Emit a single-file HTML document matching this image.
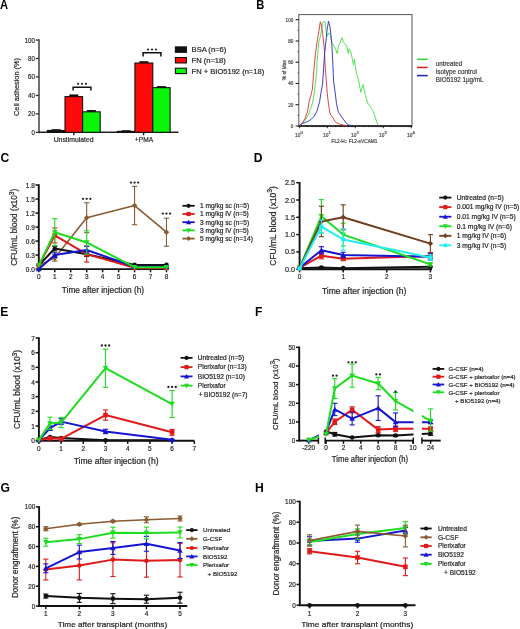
<!DOCTYPE html>
<html><head><meta charset="utf-8"><style>
html,body{margin:0;padding:0;background:#fff;}
svg{display:block;font-family:"Liberation Sans", sans-serif;filter:blur(0.35px);}
</style></head><body>
<svg width="520" height="629" viewBox="0 0 520 629">
<rect width="520" height="629" fill="#fff"/>
<text x="0" y="9" font-size="12.5" text-anchor="start" font-weight="bold" textLength="8.09" lengthAdjust="spacingAndGlyphs" fill="#000">A</text>
<text x="256.3" y="8.5" font-size="12.5" text-anchor="start" font-weight="bold" textLength="8.09" lengthAdjust="spacingAndGlyphs" fill="#000">B</text>
<text x="0.4" y="161.8" font-size="12.5" text-anchor="start" font-weight="bold" textLength="8.76" lengthAdjust="spacingAndGlyphs" fill="#000">C</text>
<text x="253.8" y="162" font-size="12.5" text-anchor="start" font-weight="bold" textLength="8.76" lengthAdjust="spacingAndGlyphs" fill="#000">D</text>
<text x="0.2" y="315.8" font-size="12.5" text-anchor="start" font-weight="bold" textLength="8.09" lengthAdjust="spacingAndGlyphs" fill="#000">E</text>
<text x="255" y="316" font-size="12.5" text-anchor="start" font-weight="bold" textLength="7.41" lengthAdjust="spacingAndGlyphs" fill="#000">F</text>
<text x="0.5" y="491.5" font-size="12.5" text-anchor="start" font-weight="bold" textLength="9.43" lengthAdjust="spacingAndGlyphs" fill="#000">G</text>
<text x="255" y="491.5" font-size="12.5" text-anchor="start" font-weight="bold" textLength="8.76" lengthAdjust="spacingAndGlyphs" fill="#000">H</text>
<line x1="39" y1="39.35" x2="39" y2="133.2" stroke="#333" stroke-width="1.4"/>
<line x1="35.7" y1="132.3" x2="39" y2="132.3" stroke="#333" stroke-width="1.3"/>
<text x="35" y="134.8" font-size="7.2" text-anchor="end" textLength="3.44" lengthAdjust="spacingAndGlyphs" fill="#262626" stroke="#262626" stroke-width="0.2">0</text>
<line x1="35.7" y1="113.85" x2="39" y2="113.85" stroke="#333" stroke-width="1.3"/>
<text x="35" y="116.35" font-size="7.2" text-anchor="end" textLength="6.89" lengthAdjust="spacingAndGlyphs" fill="#262626" stroke="#262626" stroke-width="0.2">20</text>
<line x1="35.7" y1="95.4" x2="39" y2="95.4" stroke="#333" stroke-width="1.3"/>
<text x="35" y="97.9" font-size="7.2" text-anchor="end" textLength="6.89" lengthAdjust="spacingAndGlyphs" fill="#262626" stroke="#262626" stroke-width="0.2">40</text>
<line x1="35.7" y1="76.95" x2="39" y2="76.95" stroke="#333" stroke-width="1.3"/>
<text x="35" y="79.45" font-size="7.2" text-anchor="end" textLength="6.89" lengthAdjust="spacingAndGlyphs" fill="#262626" stroke="#262626" stroke-width="0.2">60</text>
<line x1="35.7" y1="58.5" x2="39" y2="58.5" stroke="#333" stroke-width="1.3"/>
<text x="35" y="61" font-size="7.2" text-anchor="end" textLength="6.89" lengthAdjust="spacingAndGlyphs" fill="#262626" stroke="#262626" stroke-width="0.2">80</text>
<line x1="35.7" y1="40.05" x2="39" y2="40.05" stroke="#333" stroke-width="1.3"/>
<text x="35" y="42.55" font-size="7.2" text-anchor="end" textLength="10.33" lengthAdjust="spacingAndGlyphs" fill="#262626" stroke="#262626" stroke-width="0.2">100</text>
<line x1="38.3" y1="132.3" x2="178.5" y2="132.3" stroke="#222" stroke-width="1.5"/>
<line x1="73.8" y1="132.3" x2="73.8" y2="135.2" stroke="#111" stroke-width="1.4"/>
<line x1="143.6" y1="132.3" x2="143.6" y2="135.2" stroke="#111" stroke-width="1.4"/>
<text x="73.6" y="141.6" font-size="7.2" text-anchor="middle" textLength="39.8" lengthAdjust="spacingAndGlyphs" fill="#262626" stroke="#262626" stroke-width="0.2">Unstimulated</text>
<text x="144" y="141.6" font-size="7.2" text-anchor="middle" textLength="18.3" lengthAdjust="spacingAndGlyphs" fill="#262626" stroke="#262626" stroke-width="0.2">+PMA</text>
<text x="19.3" y="87" font-size="7.5" text-anchor="middle" textLength="58" lengthAdjust="spacingAndGlyphs" transform="rotate(-90 19.3 87)" fill="#262626" stroke="#262626" stroke-width="0.2">Cell adhesion (%)</text>
<rect x="47.3" y="130.46" width="17.5" height="1.84" fill="#111" stroke="#111" stroke-width="1.1"/>
<line x1="56.05" y1="130.09" x2="56.05" y2="130.46" stroke="#111" stroke-width="1.2"/>
<line x1="51.55" y1="130.09" x2="60.55" y2="130.09" stroke="#111" stroke-width="1.8"/>
<rect x="65" y="96.6" width="17.6" height="35.7" fill="#ff0a0a" stroke="#111" stroke-width="1.1"/>
<line x1="73.8" y1="95.31" x2="73.8" y2="96.6" stroke="#111" stroke-width="1.2"/>
<line x1="69.3" y1="95.31" x2="78.3" y2="95.31" stroke="#111" stroke-width="1.8"/>
<rect x="82.6" y="111.82" width="17.6" height="20.48" fill="#0af50a" stroke="#111" stroke-width="1.1"/>
<line x1="91.4" y1="110.9" x2="91.4" y2="111.82" stroke="#111" stroke-width="1.2"/>
<line x1="86.9" y1="110.9" x2="95.9" y2="110.9" stroke="#111" stroke-width="1.8"/>
<rect x="117.4" y="131.38" width="17.5" height="0.92" fill="#111" stroke="#111" stroke-width="1.1"/>
<line x1="126.15" y1="131.1" x2="126.15" y2="131.38" stroke="#111" stroke-width="1.2"/>
<line x1="121.65" y1="131.1" x2="130.65" y2="131.1" stroke="#111" stroke-width="1.8"/>
<rect x="134.9" y="63.02" width="17.9" height="69.28" fill="#ff0a0a" stroke="#111" stroke-width="1.1"/>
<line x1="143.85" y1="62.1" x2="143.85" y2="63.02" stroke="#111" stroke-width="1.2"/>
<line x1="139.35" y1="62.1" x2="148.35" y2="62.1" stroke="#111" stroke-width="1.8"/>
<rect x="152.8" y="87.65" width="17.3" height="44.65" fill="#0af50a" stroke="#111" stroke-width="1.1"/>
<line x1="161.45" y1="87.01" x2="161.45" y2="87.65" stroke="#111" stroke-width="1.2"/>
<line x1="156.95" y1="87.01" x2="165.95" y2="87.01" stroke="#111" stroke-width="1.8"/>
<polyline points="73.1,90.6 73.1,87.2 90.9,87.2 90.9,90.6" fill="none" stroke="#111" stroke-width="1.5"/>
<circle cx="78.1" cy="83.8" r="1.1" fill="#222"/>
<circle cx="82" cy="83.8" r="1.1" fill="#222"/>
<circle cx="85.9" cy="83.8" r="1.1" fill="#222"/>
<polyline points="143.1,56.5 143.1,52.8 160.9,52.8 160.9,56.5" fill="none" stroke="#111" stroke-width="1.5"/>
<circle cx="148.1" cy="49.5" r="1.1" fill="#222"/>
<circle cx="152" cy="49.5" r="1.1" fill="#222"/>
<circle cx="155.9" cy="49.5" r="1.1" fill="#222"/>
<rect x="175.4" y="46.9" width="11" height="5.4" fill="#111" stroke="#111" stroke-width="1.1"/>
<text x="191.6" y="52.3" font-size="7.4" text-anchor="start" textLength="34.62" lengthAdjust="spacingAndGlyphs" fill="#262626" stroke="#262626" stroke-width="0.2">BSA (n=6)</text>
<rect x="175.4" y="57.55" width="11" height="5.4" fill="#ff0a0a" stroke="#111" stroke-width="1.1"/>
<text x="191.6" y="62.95" font-size="7.4" text-anchor="start" textLength="34.19" lengthAdjust="spacingAndGlyphs" fill="#262626" stroke="#262626" stroke-width="0.2">FN (n=18)</text>
<rect x="175.4" y="68.2" width="11" height="5.4" fill="#0af50a" stroke="#111" stroke-width="1.1"/>
<text x="191.6" y="73.6" font-size="7.4" text-anchor="start" textLength="72.58" lengthAdjust="spacingAndGlyphs" fill="#262626" stroke="#262626" stroke-width="0.2">FN + BIO5192 (n=18)</text>
<rect x="298.8" y="14.6" width="113.2" height="111.4" fill="none" stroke="#555" stroke-width="1"/>
<line x1="295.6" y1="126" x2="298.8" y2="126" stroke="#111" stroke-width="1.0"/>
<text x="293.3" y="128" font-size="5.5" text-anchor="end" textLength="2.57" lengthAdjust="spacingAndGlyphs" fill="#444" stroke="#444" stroke-width="0.2">0</text>
<line x1="295.6" y1="104.74" x2="298.8" y2="104.74" stroke="#111" stroke-width="1.0"/>
<text x="293.3" y="106.74" font-size="5.5" text-anchor="end" textLength="5.14" lengthAdjust="spacingAndGlyphs" fill="#444" stroke="#444" stroke-width="0.2">20</text>
<line x1="295.6" y1="83.48" x2="298.8" y2="83.48" stroke="#111" stroke-width="1.0"/>
<text x="293.3" y="85.48" font-size="5.5" text-anchor="end" textLength="5.14" lengthAdjust="spacingAndGlyphs" fill="#444" stroke="#444" stroke-width="0.2">40</text>
<line x1="295.6" y1="62.22" x2="298.8" y2="62.22" stroke="#111" stroke-width="1.0"/>
<text x="293.3" y="64.22" font-size="5.5" text-anchor="end" textLength="5.14" lengthAdjust="spacingAndGlyphs" fill="#444" stroke="#444" stroke-width="0.2">60</text>
<line x1="295.6" y1="40.96" x2="298.8" y2="40.96" stroke="#111" stroke-width="1.0"/>
<text x="293.3" y="42.96" font-size="5.5" text-anchor="end" textLength="5.14" lengthAdjust="spacingAndGlyphs" fill="#444" stroke="#444" stroke-width="0.2">80</text>
<line x1="295.6" y1="19.7" x2="298.8" y2="19.7" stroke="#111" stroke-width="1.0"/>
<text x="293.3" y="21.7" font-size="5.5" text-anchor="end" textLength="7.71" lengthAdjust="spacingAndGlyphs" fill="#444" stroke="#444" stroke-width="0.2">100</text>
<line x1="297.6" y1="115.37" x2="298.8" y2="115.37" stroke="#111" stroke-width="0.6"/>
<line x1="297.6" y1="94.11" x2="298.8" y2="94.11" stroke="#111" stroke-width="0.6"/>
<line x1="297.6" y1="72.85" x2="298.8" y2="72.85" stroke="#111" stroke-width="0.6"/>
<line x1="297.6" y1="51.59" x2="298.8" y2="51.59" stroke="#111" stroke-width="0.6"/>
<line x1="297.6" y1="30.33" x2="298.8" y2="30.33" stroke="#111" stroke-width="0.6"/>
<line x1="299.3" y1="126" x2="299.3" y2="128.2" stroke="#111" stroke-width="0.9"/>
<text x="297.7" y="137" font-size="5.6" text-anchor="middle" textLength="5.29" lengthAdjust="spacingAndGlyphs" fill="#444" stroke="#444" stroke-width="0.2">10</text>
<text x="300.6" y="134" font-size="4.2" text-anchor="start" fill="#444" stroke="#444" stroke-width="0.2">0</text>
<line x1="307.73" y1="126" x2="307.73" y2="127.2" stroke="#111" stroke-width="0.6"/>
<line x1="312.66" y1="126" x2="312.66" y2="127.2" stroke="#111" stroke-width="0.6"/>
<line x1="316.16" y1="126" x2="316.16" y2="127.2" stroke="#111" stroke-width="0.6"/>
<line x1="318.87" y1="126" x2="318.87" y2="127.2" stroke="#111" stroke-width="0.6"/>
<line x1="321.09" y1="126" x2="321.09" y2="127.2" stroke="#111" stroke-width="0.6"/>
<line x1="322.96" y1="126" x2="322.96" y2="127.2" stroke="#111" stroke-width="0.6"/>
<line x1="324.59" y1="126" x2="324.59" y2="127.2" stroke="#111" stroke-width="0.6"/>
<line x1="326.02" y1="126" x2="326.02" y2="127.2" stroke="#111" stroke-width="0.6"/>
<line x1="327.3" y1="126" x2="327.3" y2="128.2" stroke="#111" stroke-width="0.9"/>
<text x="325.7" y="137" font-size="5.6" text-anchor="middle" textLength="5.29" lengthAdjust="spacingAndGlyphs" fill="#444" stroke="#444" stroke-width="0.2">10</text>
<text x="328.6" y="134" font-size="4.2" text-anchor="start" fill="#444" stroke="#444" stroke-width="0.2">1</text>
<line x1="335.73" y1="126" x2="335.73" y2="127.2" stroke="#111" stroke-width="0.6"/>
<line x1="340.66" y1="126" x2="340.66" y2="127.2" stroke="#111" stroke-width="0.6"/>
<line x1="344.16" y1="126" x2="344.16" y2="127.2" stroke="#111" stroke-width="0.6"/>
<line x1="346.87" y1="126" x2="346.87" y2="127.2" stroke="#111" stroke-width="0.6"/>
<line x1="349.09" y1="126" x2="349.09" y2="127.2" stroke="#111" stroke-width="0.6"/>
<line x1="350.96" y1="126" x2="350.96" y2="127.2" stroke="#111" stroke-width="0.6"/>
<line x1="352.59" y1="126" x2="352.59" y2="127.2" stroke="#111" stroke-width="0.6"/>
<line x1="354.02" y1="126" x2="354.02" y2="127.2" stroke="#111" stroke-width="0.6"/>
<line x1="355.3" y1="126" x2="355.3" y2="128.2" stroke="#111" stroke-width="0.9"/>
<text x="353.7" y="137" font-size="5.6" text-anchor="middle" textLength="5.29" lengthAdjust="spacingAndGlyphs" fill="#444" stroke="#444" stroke-width="0.2">10</text>
<text x="356.6" y="134" font-size="4.2" text-anchor="start" fill="#444" stroke="#444" stroke-width="0.2">2</text>
<line x1="363.73" y1="126" x2="363.73" y2="127.2" stroke="#111" stroke-width="0.6"/>
<line x1="368.66" y1="126" x2="368.66" y2="127.2" stroke="#111" stroke-width="0.6"/>
<line x1="372.16" y1="126" x2="372.16" y2="127.2" stroke="#111" stroke-width="0.6"/>
<line x1="374.87" y1="126" x2="374.87" y2="127.2" stroke="#111" stroke-width="0.6"/>
<line x1="377.09" y1="126" x2="377.09" y2="127.2" stroke="#111" stroke-width="0.6"/>
<line x1="378.96" y1="126" x2="378.96" y2="127.2" stroke="#111" stroke-width="0.6"/>
<line x1="380.59" y1="126" x2="380.59" y2="127.2" stroke="#111" stroke-width="0.6"/>
<line x1="382.02" y1="126" x2="382.02" y2="127.2" stroke="#111" stroke-width="0.6"/>
<line x1="383.3" y1="126" x2="383.3" y2="128.2" stroke="#111" stroke-width="0.9"/>
<text x="381.7" y="137" font-size="5.6" text-anchor="middle" textLength="5.29" lengthAdjust="spacingAndGlyphs" fill="#444" stroke="#444" stroke-width="0.2">10</text>
<text x="384.6" y="134" font-size="4.2" text-anchor="start" fill="#444" stroke="#444" stroke-width="0.2">3</text>
<line x1="391.73" y1="126" x2="391.73" y2="127.2" stroke="#111" stroke-width="0.6"/>
<line x1="396.66" y1="126" x2="396.66" y2="127.2" stroke="#111" stroke-width="0.6"/>
<line x1="400.16" y1="126" x2="400.16" y2="127.2" stroke="#111" stroke-width="0.6"/>
<line x1="402.87" y1="126" x2="402.87" y2="127.2" stroke="#111" stroke-width="0.6"/>
<line x1="405.09" y1="126" x2="405.09" y2="127.2" stroke="#111" stroke-width="0.6"/>
<line x1="406.96" y1="126" x2="406.96" y2="127.2" stroke="#111" stroke-width="0.6"/>
<line x1="408.59" y1="126" x2="408.59" y2="127.2" stroke="#111" stroke-width="0.6"/>
<line x1="410.02" y1="126" x2="410.02" y2="127.2" stroke="#111" stroke-width="0.6"/>
<line x1="411.3" y1="126" x2="411.3" y2="128.2" stroke="#111" stroke-width="0.9"/>
<text x="409.7" y="137" font-size="5.6" text-anchor="middle" textLength="5.29" lengthAdjust="spacingAndGlyphs" fill="#444" stroke="#444" stroke-width="0.2">10</text>
<text x="412.6" y="134" font-size="4.2" text-anchor="start" fill="#444" stroke="#444" stroke-width="0.2">4</text>
<line x1="298.8" y1="126" x2="412" y2="126" stroke="#111" stroke-width="1.4"/>
<text x="354.5" y="142.5" font-size="5.2" text-anchor="middle" textLength="46" lengthAdjust="spacingAndGlyphs" fill="#444" stroke="#444" stroke-width="0.2">FL2-H:: FL2-sVCAM1</text>
<text x="286.4" y="70.2" font-size="5.2" text-anchor="middle" textLength="20" lengthAdjust="spacingAndGlyphs" transform="rotate(-90 286.4 70.2)" fill="#444" stroke="#444" stroke-width="0.2">% of Max</text>
<polyline points="299.9,125.3 301.8,123.8 304.7,121 308.6,114.2 311.5,106.5 313.4,98.8 315.3,84.4 316.8,70 316.9,63.1 318.8,41.9 320.3,37.1 321.3,31.3 322.7,22.7 323.7,21.3 325.1,22.2 326.1,31.3 327.5,36.2 328.9,32.8 330.4,34.2 331.8,42.9 333.8,45.8 335.2,48.2 337.1,53.5 338.6,45.8 340.5,41.9 341.9,37.6 343.4,41.9 344.8,43.8 346.7,45.8 348.2,53.5 349.1,48.7 350.6,51.5 352,57.3 353.5,65 354.4,59.2 355.4,66.9 356.3,72.7 358.5,80 360.8,92.3 363.1,84.6 365.4,95.4 367.7,103 370.8,107.7 373.1,110.8 374.6,115.4 376.2,120 378.2,125.4" fill="none" stroke="#44e044" stroke-width="0.9" stroke-linejoin="round"/>
<polyline points="299.9,125.3 302.3,123.4 305.2,118.1 307.6,111.3 309.1,101.7 310.5,96.9 312.4,89.2 313.9,70 315.3,55 316.9,42.9 318.4,34.2 320.3,21.7 321.7,26.5 322.7,34.2 324.1,46.7 324.6,53.5 325.4,70 326.4,81.5 327.3,94 328.8,106.5 330.2,114.2 332.1,116.2 334.1,120 336.5,122.9 340.3,124.3 344.2,125.3 347,125.8" fill="none" stroke="#e03030" stroke-width="0.9" stroke-linejoin="round"/>
<polyline points="299.9,125.3 302.3,123.4 305.7,122.4 308.6,121 311.5,119 314.3,116.2 317.2,110.4 319.6,101.7 321.1,92.1 322.5,84.4 323.5,70 324.6,53.5 326.1,40 327,30.4 328.5,21.3 329.9,26.5 330.9,34.2 331.8,43.8 332.8,63.1 333.6,81.5 335,91.2 336.5,103.7 338.4,112.3 340.8,115.7 343.2,119 346.1,122.9 348,124.8 352,125.8" fill="none" stroke="#2a2ac0" stroke-width="0.9" stroke-linejoin="round"/>
<line x1="417" y1="59.3" x2="427.7" y2="59.3" stroke="#3cd03c" stroke-width="1.6"/>
<text x="435.8" y="65.9" font-size="6.7" text-anchor="start" textLength="26.5" lengthAdjust="spacingAndGlyphs" fill="#3a3a3a" stroke="#3a3a3a" stroke-width="0.2">untreated</text>
<line x1="417" y1="67.45" x2="427.7" y2="67.45" stroke="#d02a2a" stroke-width="1.6"/>
<text x="435.8" y="73.8" font-size="6.7" text-anchor="start" textLength="41.1" lengthAdjust="spacingAndGlyphs" fill="#3a3a3a" stroke="#3a3a3a" stroke-width="0.2">isotype control</text>
<line x1="417" y1="75.6" x2="427.7" y2="75.6" stroke="#2a2aa0" stroke-width="1.6"/>
<text x="435.8" y="81.7" font-size="6.7" text-anchor="start" textLength="47.7" lengthAdjust="spacingAndGlyphs" fill="#3a3a3a" stroke="#3a3a3a" stroke-width="0.2">BIO5192 1μg/mL</text>
<line x1="38.8" y1="184.3" x2="38.8" y2="270" stroke="#111" stroke-width="1.9"/>
<line x1="35.5" y1="269.1" x2="38.8" y2="269.1" stroke="#111" stroke-width="1.5"/>
<text x="34.8" y="271.6" font-size="7.2" text-anchor="end" textLength="9.01" lengthAdjust="spacingAndGlyphs" fill="#262626" stroke="#262626" stroke-width="0.2">0.0</text>
<line x1="35.5" y1="255.08" x2="38.8" y2="255.08" stroke="#111" stroke-width="1.5"/>
<text x="34.8" y="257.58" font-size="7.2" text-anchor="end" textLength="9.01" lengthAdjust="spacingAndGlyphs" fill="#262626" stroke="#262626" stroke-width="0.2">0.3</text>
<line x1="35.5" y1="241.07" x2="38.8" y2="241.07" stroke="#111" stroke-width="1.5"/>
<text x="34.8" y="243.57" font-size="7.2" text-anchor="end" textLength="9.01" lengthAdjust="spacingAndGlyphs" fill="#262626" stroke="#262626" stroke-width="0.2">0.6</text>
<line x1="35.5" y1="227.05" x2="38.8" y2="227.05" stroke="#111" stroke-width="1.5"/>
<text x="34.8" y="229.55" font-size="7.2" text-anchor="end" textLength="9.01" lengthAdjust="spacingAndGlyphs" fill="#262626" stroke="#262626" stroke-width="0.2">0.9</text>
<line x1="35.5" y1="213.04" x2="38.8" y2="213.04" stroke="#111" stroke-width="1.5"/>
<text x="34.8" y="215.54" font-size="7.2" text-anchor="end" textLength="9.01" lengthAdjust="spacingAndGlyphs" fill="#262626" stroke="#262626" stroke-width="0.2">1.2</text>
<line x1="35.5" y1="199.02" x2="38.8" y2="199.02" stroke="#111" stroke-width="1.5"/>
<text x="34.8" y="201.52" font-size="7.2" text-anchor="end" textLength="9.01" lengthAdjust="spacingAndGlyphs" fill="#262626" stroke="#262626" stroke-width="0.2">1.5</text>
<line x1="35.5" y1="185" x2="38.8" y2="185" stroke="#111" stroke-width="1.5"/>
<text x="34.8" y="187.5" font-size="7.2" text-anchor="end" textLength="9.01" lengthAdjust="spacingAndGlyphs" fill="#262626" stroke="#262626" stroke-width="0.2">1.8</text>
<line x1="37.9" y1="269.1" x2="168.8" y2="269.1" stroke="#111" stroke-width="1.9"/>
<line x1="38.8" y1="269.1" x2="38.8" y2="272.3" stroke="#111" stroke-width="1.5"/>
<text x="38.8" y="278.9" font-size="7.2" text-anchor="middle" textLength="3.6" lengthAdjust="spacingAndGlyphs" fill="#262626" stroke="#262626" stroke-width="0.2">0</text>
<line x1="54.76" y1="269.1" x2="54.76" y2="272.3" stroke="#111" stroke-width="1.5"/>
<text x="54.76" y="278.9" font-size="7.2" text-anchor="middle" textLength="3.6" lengthAdjust="spacingAndGlyphs" fill="#262626" stroke="#262626" stroke-width="0.2">1</text>
<line x1="70.72" y1="269.1" x2="70.72" y2="272.3" stroke="#111" stroke-width="1.5"/>
<text x="70.72" y="278.9" font-size="7.2" text-anchor="middle" textLength="3.6" lengthAdjust="spacingAndGlyphs" fill="#262626" stroke="#262626" stroke-width="0.2">2</text>
<line x1="86.68" y1="269.1" x2="86.68" y2="272.3" stroke="#111" stroke-width="1.5"/>
<text x="86.68" y="278.9" font-size="7.2" text-anchor="middle" textLength="3.6" lengthAdjust="spacingAndGlyphs" fill="#262626" stroke="#262626" stroke-width="0.2">3</text>
<line x1="102.64" y1="269.1" x2="102.64" y2="272.3" stroke="#111" stroke-width="1.5"/>
<text x="102.64" y="278.9" font-size="7.2" text-anchor="middle" textLength="3.6" lengthAdjust="spacingAndGlyphs" fill="#262626" stroke="#262626" stroke-width="0.2">4</text>
<line x1="118.6" y1="269.1" x2="118.6" y2="272.3" stroke="#111" stroke-width="1.5"/>
<text x="118.6" y="278.9" font-size="7.2" text-anchor="middle" textLength="3.6" lengthAdjust="spacingAndGlyphs" fill="#262626" stroke="#262626" stroke-width="0.2">5</text>
<line x1="134.56" y1="269.1" x2="134.56" y2="272.3" stroke="#111" stroke-width="1.5"/>
<text x="134.56" y="278.9" font-size="7.2" text-anchor="middle" textLength="3.6" lengthAdjust="spacingAndGlyphs" fill="#262626" stroke="#262626" stroke-width="0.2">6</text>
<line x1="150.52" y1="269.1" x2="150.52" y2="272.3" stroke="#111" stroke-width="1.5"/>
<text x="150.52" y="278.9" font-size="7.2" text-anchor="middle" textLength="3.6" lengthAdjust="spacingAndGlyphs" fill="#262626" stroke="#262626" stroke-width="0.2">7</text>
<line x1="166.48" y1="269.1" x2="166.48" y2="272.3" stroke="#111" stroke-width="1.5"/>
<text x="166.48" y="278.9" font-size="7.2" text-anchor="middle" textLength="3.6" lengthAdjust="spacingAndGlyphs" fill="#262626" stroke="#262626" stroke-width="0.2">8</text>
<text x="17.3" y="227.3" font-size="8.3" text-anchor="middle" textLength="77" lengthAdjust="spacingAndGlyphs" transform="rotate(-90 17.3 227.3)" fill="#222" stroke="#222" stroke-width="0.2">CFU/mL blood (x10<tspan font-size="6.6" dy="-3.4">3</tspan><tspan dy="3.4">)</tspan></text>
<text x="103" y="293.3" font-size="8.8" text-anchor="middle" textLength="82.3" lengthAdjust="spacingAndGlyphs" fill="#222" stroke="#222" stroke-width="0.2">Time after injection (h)</text>
<line x1="54.76" y1="254.62" x2="54.76" y2="261.16" stroke="#8a5a32" stroke-width="1.1"/>
<line x1="52.16" y1="254.62" x2="57.36" y2="254.62" stroke="#8a5a32" stroke-width="1.1"/>
<line x1="52.16" y1="261.16" x2="57.36" y2="261.16" stroke="#8a5a32" stroke-width="1.1"/>
<line x1="86.68" y1="202.76" x2="86.68" y2="232.66" stroke="#8a5a32" stroke-width="1.1"/>
<line x1="84.08" y1="202.76" x2="89.28" y2="202.76" stroke="#8a5a32" stroke-width="1.1"/>
<line x1="84.08" y1="232.66" x2="89.28" y2="232.66" stroke="#8a5a32" stroke-width="1.1"/>
<line x1="134.56" y1="186.41" x2="134.56" y2="224.72" stroke="#8a5a32" stroke-width="1.1"/>
<line x1="131.96" y1="186.41" x2="137.16" y2="186.41" stroke="#8a5a32" stroke-width="1.1"/>
<line x1="131.96" y1="224.72" x2="137.16" y2="224.72" stroke="#8a5a32" stroke-width="1.1"/>
<line x1="166.48" y1="218.18" x2="166.48" y2="246.21" stroke="#8a5a32" stroke-width="1.1"/>
<line x1="163.88" y1="218.18" x2="169.08" y2="218.18" stroke="#8a5a32" stroke-width="1.1"/>
<line x1="163.88" y1="246.21" x2="169.08" y2="246.21" stroke="#8a5a32" stroke-width="1.1"/>
<polyline points="38.8,265.36 54.76,257.89 86.68,217.71 134.56,205.56 166.48,232.19" fill="none" stroke="#8a5a32" stroke-width="1.6" stroke-linejoin="round"/>
<polygon points="38.8,262.6 41.56,265.36 38.8,268.12 36.04,265.36" fill="#8a5a32"/>
<polygon points="54.76,255.13 57.52,257.89 54.76,260.65 52,257.89" fill="#8a5a32"/>
<polygon points="86.68,214.95 89.44,217.71 86.68,220.47 83.92,217.71" fill="#8a5a32"/>
<polygon points="134.56,202.8 137.32,205.56 134.56,208.32 131.8,205.56" fill="#8a5a32"/>
<polygon points="166.48,229.43 169.24,232.19 166.48,234.95 163.72,232.19" fill="#8a5a32"/>
<line x1="54.76" y1="246.21" x2="54.76" y2="250.88" stroke="#111" stroke-width="1.1"/>
<line x1="52.16" y1="246.21" x2="57.36" y2="246.21" stroke="#111" stroke-width="1.1"/>
<line x1="52.16" y1="250.88" x2="57.36" y2="250.88" stroke="#111" stroke-width="1.1"/>
<line x1="86.68" y1="251.81" x2="86.68" y2="256.49" stroke="#111" stroke-width="1.1"/>
<line x1="84.08" y1="251.81" x2="89.28" y2="251.81" stroke="#111" stroke-width="1.1"/>
<line x1="84.08" y1="256.49" x2="89.28" y2="256.49" stroke="#111" stroke-width="1.1"/>
<polyline points="38.8,265.36 54.76,248.54 86.68,254.15 134.56,264.9 166.48,264.9" fill="none" stroke="#111" stroke-width="2.0" stroke-linejoin="round"/>
<circle cx="38.8" cy="265.36" r="2.3" fill="#111"/>
<circle cx="54.76" cy="248.54" r="2.3" fill="#111"/>
<circle cx="86.68" cy="254.15" r="2.3" fill="#111"/>
<circle cx="134.56" cy="264.9" r="2.3" fill="#111"/>
<circle cx="166.48" cy="264.9" r="2.3" fill="#111"/>
<line x1="54.76" y1="227.99" x2="54.76" y2="242.94" stroke="#e01a1a" stroke-width="1.1"/>
<line x1="52.16" y1="227.99" x2="57.36" y2="227.99" stroke="#e01a1a" stroke-width="1.1"/>
<line x1="52.16" y1="242.94" x2="57.36" y2="242.94" stroke="#e01a1a" stroke-width="1.1"/>
<line x1="86.68" y1="246.21" x2="86.68" y2="262.09" stroke="#e01a1a" stroke-width="1.1"/>
<line x1="84.08" y1="246.21" x2="89.28" y2="246.21" stroke="#e01a1a" stroke-width="1.1"/>
<line x1="84.08" y1="262.09" x2="89.28" y2="262.09" stroke="#e01a1a" stroke-width="1.1"/>
<polyline points="38.8,265.36 54.76,235.46 86.68,254.15 134.56,267.7 166.48,267.7" fill="none" stroke="#e01a1a" stroke-width="2.0" stroke-linejoin="round"/>
<rect x="36.5" y="263.06" width="4.6" height="4.6" fill="#e01a1a"/>
<rect x="52.46" y="233.16" width="4.6" height="4.6" fill="#e01a1a"/>
<rect x="84.38" y="251.85" width="4.6" height="4.6" fill="#e01a1a"/>
<rect x="132.26" y="265.4" width="4.6" height="4.6" fill="#e01a1a"/>
<rect x="164.18" y="265.4" width="4.6" height="4.6" fill="#e01a1a"/>
<line x1="54.76" y1="252.75" x2="54.76" y2="257.42" stroke="#1515d0" stroke-width="1.1"/>
<line x1="52.16" y1="252.75" x2="57.36" y2="252.75" stroke="#1515d0" stroke-width="1.1"/>
<line x1="52.16" y1="257.42" x2="57.36" y2="257.42" stroke="#1515d0" stroke-width="1.1"/>
<line x1="86.68" y1="246.21" x2="86.68" y2="253.68" stroke="#1515d0" stroke-width="1.1"/>
<line x1="84.08" y1="246.21" x2="89.28" y2="246.21" stroke="#1515d0" stroke-width="1.1"/>
<line x1="84.08" y1="253.68" x2="89.28" y2="253.68" stroke="#1515d0" stroke-width="1.1"/>
<polyline points="38.8,269.1 54.76,255.08 86.68,249.94 134.56,266.76 166.48,266.76" fill="none" stroke="#1515d0" stroke-width="2.0" stroke-linejoin="round"/>
<polygon points="38.8,266.34 41.56,271.31 36.04,271.31" fill="#1515d0"/>
<polygon points="54.76,252.32 57.52,257.29 52,257.29" fill="#1515d0"/>
<polygon points="86.68,247.18 89.44,252.15 83.92,252.15" fill="#1515d0"/>
<polygon points="134.56,264 137.32,268.97 131.8,268.97" fill="#1515d0"/>
<polygon points="166.48,264 169.24,268.97 163.72,268.97" fill="#1515d0"/>
<line x1="54.76" y1="218.64" x2="54.76" y2="245.74" stroke="#1edc1e" stroke-width="1.1"/>
<line x1="52.16" y1="218.64" x2="57.36" y2="218.64" stroke="#1edc1e" stroke-width="1.1"/>
<line x1="52.16" y1="245.74" x2="57.36" y2="245.74" stroke="#1edc1e" stroke-width="1.1"/>
<line x1="86.68" y1="230.79" x2="86.68" y2="254.15" stroke="#1edc1e" stroke-width="1.1"/>
<line x1="84.08" y1="230.79" x2="89.28" y2="230.79" stroke="#1edc1e" stroke-width="1.1"/>
<line x1="84.08" y1="254.15" x2="89.28" y2="254.15" stroke="#1edc1e" stroke-width="1.1"/>
<polyline points="38.8,265.36 54.76,232.19 86.68,242.47 134.56,267.23 166.48,267.23" fill="none" stroke="#1edc1e" stroke-width="2.0" stroke-linejoin="round"/>
<polygon points="38.8,268.12 41.56,263.15 36.04,263.15" fill="#1edc1e"/>
<polygon points="54.76,234.95 57.52,229.98 52,229.98" fill="#1edc1e"/>
<polygon points="86.68,245.23 89.44,240.26 83.92,240.26" fill="#1edc1e"/>
<polygon points="134.56,269.99 137.32,265.02 131.8,265.02" fill="#1edc1e"/>
<polygon points="166.48,269.99 169.24,265.02 163.72,265.02" fill="#1edc1e"/>
<circle cx="83.03" cy="198.8" r="1.15" fill="#222"/>
<circle cx="86.68" cy="198.8" r="1.15" fill="#222"/>
<circle cx="90.33" cy="198.8" r="1.15" fill="#222"/>
<circle cx="130.91" cy="182.6" r="1.15" fill="#222"/>
<circle cx="134.56" cy="182.6" r="1.15" fill="#222"/>
<circle cx="138.21" cy="182.6" r="1.15" fill="#222"/>
<circle cx="162.83" cy="213.6" r="1.15" fill="#222"/>
<circle cx="166.48" cy="213.6" r="1.15" fill="#222"/>
<circle cx="170.13" cy="213.6" r="1.15" fill="#222"/>
<line x1="182.4" y1="205.8" x2="194.7" y2="205.8" stroke="#111" stroke-width="1.8"/>
<circle cx="188.55" cy="205.8" r="2.1" fill="#111"/>
<text x="199.9" y="208.1" font-size="6.6" text-anchor="start" fill="#262626" stroke="#262626" stroke-width="0.2">1 mg/kg sc (n=5)</text>
<line x1="182.4" y1="214" x2="194.7" y2="214" stroke="#e01a1a" stroke-width="1.8"/>
<rect x="186.45" y="211.9" width="4.2" height="4.2" fill="#e01a1a"/>
<text x="199.9" y="216.3" font-size="6.6" text-anchor="start" fill="#262626" stroke="#262626" stroke-width="0.2">1 mg/kg IV (n=5)</text>
<line x1="182.4" y1="222.2" x2="194.7" y2="222.2" stroke="#1515d0" stroke-width="1.8"/>
<polygon points="188.55,219.68 191.07,224.22 186.03,224.22" fill="#1515d0"/>
<text x="199.9" y="224.5" font-size="6.6" text-anchor="start" fill="#262626" stroke="#262626" stroke-width="0.2">3 mg/kg sc (n=5)</text>
<line x1="182.4" y1="230.4" x2="194.7" y2="230.4" stroke="#1edc1e" stroke-width="1.8"/>
<polygon points="188.55,232.92 191.07,228.38 186.03,228.38" fill="#1edc1e"/>
<text x="199.9" y="232.7" font-size="6.6" text-anchor="start" fill="#262626" stroke="#262626" stroke-width="0.2">3 mg/kg IV (n=5)</text>
<line x1="182.4" y1="238.6" x2="194.7" y2="238.6" stroke="#8a5a32" stroke-width="1.8"/>
<polygon points="188.55,236.08 191.07,238.6 188.55,241.12 186.03,238.6" fill="#8a5a32"/>
<text x="199.9" y="240.9" font-size="6.6" text-anchor="start" fill="#262626" stroke="#262626" stroke-width="0.2">5 mg/kg sc (n=14)</text>
<line x1="299.6" y1="182" x2="299.6" y2="270.1" stroke="#111" stroke-width="1.9"/>
<line x1="296.3" y1="269.2" x2="299.6" y2="269.2" stroke="#111" stroke-width="1.5"/>
<text x="295" y="271.7" font-size="7.2" text-anchor="end" textLength="10.01" lengthAdjust="spacingAndGlyphs" fill="#262626" stroke="#262626" stroke-width="0.2">0.0</text>
<line x1="296.3" y1="251.9" x2="299.6" y2="251.9" stroke="#111" stroke-width="1.5"/>
<text x="295" y="254.4" font-size="7.2" text-anchor="end" textLength="10.01" lengthAdjust="spacingAndGlyphs" fill="#262626" stroke="#262626" stroke-width="0.2">0.5</text>
<line x1="296.3" y1="234.6" x2="299.6" y2="234.6" stroke="#111" stroke-width="1.5"/>
<text x="295" y="237.1" font-size="7.2" text-anchor="end" textLength="10.01" lengthAdjust="spacingAndGlyphs" fill="#262626" stroke="#262626" stroke-width="0.2">1.0</text>
<line x1="296.3" y1="217.3" x2="299.6" y2="217.3" stroke="#111" stroke-width="1.5"/>
<text x="295" y="219.8" font-size="7.2" text-anchor="end" textLength="10.01" lengthAdjust="spacingAndGlyphs" fill="#262626" stroke="#262626" stroke-width="0.2">1.5</text>
<line x1="296.3" y1="200" x2="299.6" y2="200" stroke="#111" stroke-width="1.5"/>
<text x="295" y="202.5" font-size="7.2" text-anchor="end" textLength="10.01" lengthAdjust="spacingAndGlyphs" fill="#262626" stroke="#262626" stroke-width="0.2">2.0</text>
<line x1="296.3" y1="182.7" x2="299.6" y2="182.7" stroke="#111" stroke-width="1.5"/>
<text x="295" y="185.2" font-size="7.2" text-anchor="end" textLength="10.01" lengthAdjust="spacingAndGlyphs" fill="#262626" stroke="#262626" stroke-width="0.2">2.5</text>
<line x1="298.7" y1="269.2" x2="432" y2="269.2" stroke="#111" stroke-width="1.9"/>
<line x1="299.6" y1="269.2" x2="299.6" y2="272.4" stroke="#111" stroke-width="1.5"/>
<text x="299.6" y="279" font-size="7.2" text-anchor="middle" textLength="3.6" lengthAdjust="spacingAndGlyphs" fill="#262626" stroke="#262626" stroke-width="0.2">0</text>
<line x1="343.2" y1="269.2" x2="343.2" y2="272.4" stroke="#111" stroke-width="1.5"/>
<text x="343.2" y="279" font-size="7.2" text-anchor="middle" textLength="3.6" lengthAdjust="spacingAndGlyphs" fill="#262626" stroke="#262626" stroke-width="0.2">1</text>
<line x1="386.8" y1="269.2" x2="386.8" y2="272.4" stroke="#111" stroke-width="1.5"/>
<text x="386.8" y="279" font-size="7.2" text-anchor="middle" textLength="3.6" lengthAdjust="spacingAndGlyphs" fill="#262626" stroke="#262626" stroke-width="0.2">2</text>
<line x1="430.4" y1="269.2" x2="430.4" y2="272.4" stroke="#111" stroke-width="1.5"/>
<text x="430.4" y="279" font-size="7.2" text-anchor="middle" textLength="3.6" lengthAdjust="spacingAndGlyphs" fill="#262626" stroke="#262626" stroke-width="0.2">3</text>
<text x="275.6" y="225.9" font-size="8.3" text-anchor="middle" textLength="79.5" lengthAdjust="spacingAndGlyphs" transform="rotate(-90 275.6 225.9)" fill="#222" stroke="#222" stroke-width="0.2">CFU/mL blood (x10<tspan font-size="6.6" dy="-3.4">3</tspan><tspan dy="3.4">)</tspan></text>
<text x="364.1" y="293.5" font-size="8.8" text-anchor="middle" textLength="84.4" lengthAdjust="spacingAndGlyphs" fill="#222" stroke="#222" stroke-width="0.2">Time after injection (h)</text>
<line x1="321.4" y1="267.12" x2="321.4" y2="267.82" stroke="#111" stroke-width="1.1"/>
<line x1="318.8" y1="267.12" x2="324" y2="267.12" stroke="#111" stroke-width="1.1"/>
<line x1="318.8" y1="267.82" x2="324" y2="267.82" stroke="#111" stroke-width="1.1"/>
<line x1="343.2" y1="267.82" x2="343.2" y2="268.51" stroke="#111" stroke-width="1.1"/>
<line x1="340.6" y1="267.82" x2="345.8" y2="267.82" stroke="#111" stroke-width="1.1"/>
<line x1="340.6" y1="268.51" x2="345.8" y2="268.51" stroke="#111" stroke-width="1.1"/>
<line x1="430.4" y1="266.43" x2="430.4" y2="267.12" stroke="#111" stroke-width="1.1"/>
<line x1="427.8" y1="266.43" x2="433" y2="266.43" stroke="#111" stroke-width="1.1"/>
<line x1="427.8" y1="267.12" x2="433" y2="267.12" stroke="#111" stroke-width="1.1"/>
<polyline points="299.6,268.16 321.4,267.47 343.2,268.16 430.4,266.78" fill="none" stroke="#111" stroke-width="2.0" stroke-linejoin="round"/>
<circle cx="299.6" cy="268.16" r="2.3" fill="#111"/>
<circle cx="321.4" cy="267.47" r="2.3" fill="#111"/>
<circle cx="343.2" cy="268.16" r="2.3" fill="#111"/>
<circle cx="430.4" cy="266.78" r="2.3" fill="#111"/>
<line x1="321.4" y1="252.59" x2="321.4" y2="258.82" stroke="#e01a1a" stroke-width="1.1"/>
<line x1="318.8" y1="252.59" x2="324" y2="252.59" stroke="#e01a1a" stroke-width="1.1"/>
<line x1="318.8" y1="258.82" x2="324" y2="258.82" stroke="#e01a1a" stroke-width="1.1"/>
<line x1="343.2" y1="257.09" x2="343.2" y2="260.55" stroke="#e01a1a" stroke-width="1.1"/>
<line x1="340.6" y1="257.09" x2="345.8" y2="257.09" stroke="#e01a1a" stroke-width="1.1"/>
<line x1="340.6" y1="260.55" x2="345.8" y2="260.55" stroke="#e01a1a" stroke-width="1.1"/>
<line x1="430.4" y1="254.67" x2="430.4" y2="257.44" stroke="#e01a1a" stroke-width="1.1"/>
<line x1="427.8" y1="254.67" x2="433" y2="254.67" stroke="#e01a1a" stroke-width="1.1"/>
<line x1="427.8" y1="257.44" x2="433" y2="257.44" stroke="#e01a1a" stroke-width="1.1"/>
<polyline points="299.6,267.82 321.4,255.71 343.2,258.82 430.4,256.05" fill="none" stroke="#e01a1a" stroke-width="2.0" stroke-linejoin="round"/>
<rect x="297.3" y="265.52" width="4.6" height="4.6" fill="#e01a1a"/>
<rect x="319.1" y="253.41" width="4.6" height="4.6" fill="#e01a1a"/>
<rect x="340.9" y="256.52" width="4.6" height="4.6" fill="#e01a1a"/>
<rect x="428.1" y="253.75" width="4.6" height="4.6" fill="#e01a1a"/>
<line x1="321.4" y1="246.71" x2="321.4" y2="253.63" stroke="#1515d0" stroke-width="1.1"/>
<line x1="318.8" y1="246.71" x2="324" y2="246.71" stroke="#1515d0" stroke-width="1.1"/>
<line x1="318.8" y1="253.63" x2="324" y2="253.63" stroke="#1515d0" stroke-width="1.1"/>
<line x1="343.2" y1="252.25" x2="343.2" y2="257.78" stroke="#1515d0" stroke-width="1.1"/>
<line x1="340.6" y1="252.25" x2="345.8" y2="252.25" stroke="#1515d0" stroke-width="1.1"/>
<line x1="340.6" y1="257.78" x2="345.8" y2="257.78" stroke="#1515d0" stroke-width="1.1"/>
<line x1="430.4" y1="253.28" x2="430.4" y2="260.2" stroke="#1515d0" stroke-width="1.1"/>
<line x1="427.8" y1="253.28" x2="433" y2="253.28" stroke="#1515d0" stroke-width="1.1"/>
<line x1="427.8" y1="260.2" x2="433" y2="260.2" stroke="#1515d0" stroke-width="1.1"/>
<polyline points="299.6,267.82 321.4,250.17 343.2,255.01 430.4,256.74" fill="none" stroke="#1515d0" stroke-width="2.0" stroke-linejoin="round"/>
<polygon points="299.6,265.06 302.36,270.02 296.84,270.02" fill="#1515d0"/>
<polygon points="321.4,247.41 324.16,252.38 318.64,252.38" fill="#1515d0"/>
<polygon points="343.2,252.25 345.96,257.22 340.44,257.22" fill="#1515d0"/>
<polygon points="430.4,253.98 433.16,258.95 427.64,258.95" fill="#1515d0"/>
<line x1="321.4" y1="199.65" x2="321.4" y2="232.87" stroke="#1edc1e" stroke-width="1.1"/>
<line x1="318.8" y1="199.65" x2="324" y2="199.65" stroke="#1edc1e" stroke-width="1.1"/>
<line x1="318.8" y1="232.87" x2="324" y2="232.87" stroke="#1edc1e" stroke-width="1.1"/>
<line x1="343.2" y1="223.18" x2="343.2" y2="246.02" stroke="#1edc1e" stroke-width="1.1"/>
<line x1="340.6" y1="223.18" x2="345.8" y2="223.18" stroke="#1edc1e" stroke-width="1.1"/>
<line x1="340.6" y1="246.02" x2="345.8" y2="246.02" stroke="#1edc1e" stroke-width="1.1"/>
<line x1="430.4" y1="262.63" x2="430.4" y2="266.09" stroke="#1edc1e" stroke-width="1.1"/>
<line x1="427.8" y1="262.63" x2="433" y2="262.63" stroke="#1edc1e" stroke-width="1.1"/>
<line x1="427.8" y1="266.09" x2="433" y2="266.09" stroke="#1edc1e" stroke-width="1.1"/>
<polyline points="299.6,267.82 321.4,216.26 343.2,234.6 430.4,264.36" fill="none" stroke="#1edc1e" stroke-width="2.0" stroke-linejoin="round"/>
<polygon points="299.6,270.58 302.36,265.61 296.84,265.61" fill="#1edc1e"/>
<polygon points="321.4,219.02 324.16,214.05 318.64,214.05" fill="#1edc1e"/>
<polygon points="343.2,237.36 345.96,232.39 340.44,232.39" fill="#1edc1e"/>
<polygon points="430.4,267.12 433.16,262.15 427.64,262.15" fill="#1edc1e"/>
<line x1="321.4" y1="206.23" x2="321.4" y2="236.68" stroke="#703d1d" stroke-width="1.1"/>
<line x1="318.8" y1="206.23" x2="324" y2="206.23" stroke="#703d1d" stroke-width="1.1"/>
<line x1="318.8" y1="236.68" x2="324" y2="236.68" stroke="#703d1d" stroke-width="1.1"/>
<line x1="343.2" y1="204.84" x2="343.2" y2="229.76" stroke="#703d1d" stroke-width="1.1"/>
<line x1="340.6" y1="204.84" x2="345.8" y2="204.84" stroke="#703d1d" stroke-width="1.1"/>
<line x1="340.6" y1="229.76" x2="345.8" y2="229.76" stroke="#703d1d" stroke-width="1.1"/>
<line x1="430.4" y1="234.6" x2="430.4" y2="252.59" stroke="#703d1d" stroke-width="1.1"/>
<line x1="427.8" y1="234.6" x2="433" y2="234.6" stroke="#703d1d" stroke-width="1.1"/>
<line x1="427.8" y1="252.59" x2="433" y2="252.59" stroke="#703d1d" stroke-width="1.1"/>
<polyline points="299.6,267.82 321.4,221.45 343.2,217.3 430.4,243.6" fill="none" stroke="#703d1d" stroke-width="2.0" stroke-linejoin="round"/>
<polygon points="299.6,265.06 302.36,267.82 299.6,270.58 296.84,267.82" fill="#703d1d"/>
<polygon points="321.4,218.69 324.16,221.45 321.4,224.21 318.64,221.45" fill="#703d1d"/>
<polygon points="343.2,214.54 345.96,217.3 343.2,220.06 340.44,217.3" fill="#703d1d"/>
<polygon points="430.4,240.84 433.16,243.6 430.4,246.36 427.64,243.6" fill="#703d1d"/>
<line x1="321.4" y1="220.07" x2="321.4" y2="233.22" stroke="#22eeee" stroke-width="1.1"/>
<line x1="318.8" y1="220.07" x2="324" y2="220.07" stroke="#22eeee" stroke-width="1.1"/>
<line x1="318.8" y1="233.22" x2="324" y2="233.22" stroke="#22eeee" stroke-width="1.1"/>
<line x1="343.2" y1="228.72" x2="343.2" y2="250.17" stroke="#22eeee" stroke-width="1.1"/>
<line x1="340.6" y1="228.72" x2="345.8" y2="228.72" stroke="#22eeee" stroke-width="1.1"/>
<line x1="340.6" y1="250.17" x2="345.8" y2="250.17" stroke="#22eeee" stroke-width="1.1"/>
<line x1="430.4" y1="254.67" x2="430.4" y2="260.2" stroke="#22eeee" stroke-width="1.1"/>
<line x1="427.8" y1="254.67" x2="433" y2="254.67" stroke="#22eeee" stroke-width="1.1"/>
<line x1="427.8" y1="260.2" x2="433" y2="260.2" stroke="#22eeee" stroke-width="1.1"/>
<polyline points="299.6,268.51 321.4,226.64 343.2,239.44 430.4,257.44" fill="none" stroke="#22eeee" stroke-width="2.0" stroke-linejoin="round"/>
<circle cx="299.6" cy="268.51" r="2.3" fill="#22eeee"/>
<circle cx="321.4" cy="226.64" r="2.3" fill="#22eeee"/>
<circle cx="343.2" cy="239.44" r="2.3" fill="#22eeee"/>
<circle cx="430.4" cy="257.44" r="2.3" fill="#22eeee"/>
<line x1="439.2" y1="197.6" x2="451.4" y2="197.6" stroke="#111" stroke-width="1.8"/>
<circle cx="445.3" cy="197.6" r="2.1" fill="#111"/>
<text x="456.7" y="199.9" font-size="6.7" text-anchor="start" fill="#262626" stroke="#262626" stroke-width="0.2">Untreated (n=5)</text>
<line x1="439.2" y1="207.15" x2="451.4" y2="207.15" stroke="#e01a1a" stroke-width="1.8"/>
<rect x="443.2" y="205.05" width="4.2" height="4.2" fill="#e01a1a"/>
<text x="456.7" y="209.45" font-size="6.7" text-anchor="start" fill="#262626" stroke="#262626" stroke-width="0.2">0.001 mg/kg IV (n=5)</text>
<line x1="439.2" y1="216.7" x2="451.4" y2="216.7" stroke="#1515d0" stroke-width="1.8"/>
<polygon points="445.3,214.18 447.82,218.72 442.78,218.72" fill="#1515d0"/>
<text x="456.7" y="219" font-size="6.7" text-anchor="start" fill="#262626" stroke="#262626" stroke-width="0.2">0.01 mg/kg IV (n=5)</text>
<line x1="439.2" y1="226.25" x2="451.4" y2="226.25" stroke="#1edc1e" stroke-width="1.8"/>
<polygon points="445.3,228.77 447.82,224.23 442.78,224.23" fill="#1edc1e"/>
<text x="456.7" y="228.55" font-size="6.7" text-anchor="start" fill="#262626" stroke="#262626" stroke-width="0.2">0.1 mg/kg IV (n=6)</text>
<line x1="439.2" y1="235.8" x2="451.4" y2="235.8" stroke="#703d1d" stroke-width="1.8"/>
<polygon points="445.3,233.28 447.82,235.8 445.3,238.32 442.78,235.8" fill="#703d1d"/>
<text x="456.7" y="238.1" font-size="6.7" text-anchor="start" fill="#262626" stroke="#262626" stroke-width="0.2">1 mg/kg IV (n=6)</text>
<line x1="439.2" y1="245.35" x2="451.4" y2="245.35" stroke="#22eeee" stroke-width="1.8"/>
<circle cx="445.3" cy="245.35" r="2.1" fill="#22eeee"/>
<text x="456.7" y="247.65" font-size="6.7" text-anchor="start" fill="#262626" stroke="#262626" stroke-width="0.2">3 mg/kg IV (n=5)</text>
<line x1="38.9" y1="337.31" x2="38.9" y2="441.6" stroke="#111" stroke-width="1.9"/>
<line x1="35.6" y1="440.7" x2="38.9" y2="440.7" stroke="#111" stroke-width="1.5"/>
<text x="34.9" y="443.2" font-size="7.2" text-anchor="end" textLength="3.6" lengthAdjust="spacingAndGlyphs" fill="#262626" stroke="#262626" stroke-width="0.2">0</text>
<line x1="35.6" y1="426.03" x2="38.9" y2="426.03" stroke="#111" stroke-width="1.5"/>
<text x="34.9" y="428.53" font-size="7.2" text-anchor="end" textLength="3.6" lengthAdjust="spacingAndGlyphs" fill="#262626" stroke="#262626" stroke-width="0.2">1</text>
<line x1="35.6" y1="411.36" x2="38.9" y2="411.36" stroke="#111" stroke-width="1.5"/>
<text x="34.9" y="413.86" font-size="7.2" text-anchor="end" textLength="3.6" lengthAdjust="spacingAndGlyphs" fill="#262626" stroke="#262626" stroke-width="0.2">2</text>
<line x1="35.6" y1="396.69" x2="38.9" y2="396.69" stroke="#111" stroke-width="1.5"/>
<text x="34.9" y="399.19" font-size="7.2" text-anchor="end" textLength="3.6" lengthAdjust="spacingAndGlyphs" fill="#262626" stroke="#262626" stroke-width="0.2">3</text>
<line x1="35.6" y1="382.02" x2="38.9" y2="382.02" stroke="#111" stroke-width="1.5"/>
<text x="34.9" y="384.52" font-size="7.2" text-anchor="end" textLength="3.6" lengthAdjust="spacingAndGlyphs" fill="#262626" stroke="#262626" stroke-width="0.2">4</text>
<line x1="35.6" y1="367.35" x2="38.9" y2="367.35" stroke="#111" stroke-width="1.5"/>
<text x="34.9" y="369.85" font-size="7.2" text-anchor="end" textLength="3.6" lengthAdjust="spacingAndGlyphs" fill="#262626" stroke="#262626" stroke-width="0.2">5</text>
<line x1="35.6" y1="352.68" x2="38.9" y2="352.68" stroke="#111" stroke-width="1.5"/>
<text x="34.9" y="355.18" font-size="7.2" text-anchor="end" textLength="3.6" lengthAdjust="spacingAndGlyphs" fill="#262626" stroke="#262626" stroke-width="0.2">6</text>
<line x1="35.6" y1="338.01" x2="38.9" y2="338.01" stroke="#111" stroke-width="1.5"/>
<text x="34.9" y="340.51" font-size="7.2" text-anchor="end" textLength="3.6" lengthAdjust="spacingAndGlyphs" fill="#262626" stroke="#262626" stroke-width="0.2">7</text>
<line x1="38" y1="440.7" x2="194.3" y2="440.7" stroke="#111" stroke-width="1.9"/>
<line x1="38.9" y1="440.7" x2="38.9" y2="443.9" stroke="#111" stroke-width="1.5"/>
<text x="38.9" y="450.5" font-size="7.2" text-anchor="middle" textLength="3.6" lengthAdjust="spacingAndGlyphs" fill="#262626" stroke="#262626" stroke-width="0.2">0</text>
<line x1="61.1" y1="440.7" x2="61.1" y2="443.9" stroke="#111" stroke-width="1.5"/>
<text x="61.1" y="450.5" font-size="7.2" text-anchor="middle" textLength="3.6" lengthAdjust="spacingAndGlyphs" fill="#262626" stroke="#262626" stroke-width="0.2">1</text>
<line x1="83.3" y1="440.7" x2="83.3" y2="443.9" stroke="#111" stroke-width="1.5"/>
<text x="83.3" y="450.5" font-size="7.2" text-anchor="middle" textLength="3.6" lengthAdjust="spacingAndGlyphs" fill="#262626" stroke="#262626" stroke-width="0.2">2</text>
<line x1="105.5" y1="440.7" x2="105.5" y2="443.9" stroke="#111" stroke-width="1.5"/>
<text x="105.5" y="450.5" font-size="7.2" text-anchor="middle" textLength="3.6" lengthAdjust="spacingAndGlyphs" fill="#262626" stroke="#262626" stroke-width="0.2">3</text>
<line x1="127.7" y1="440.7" x2="127.7" y2="443.9" stroke="#111" stroke-width="1.5"/>
<text x="127.7" y="450.5" font-size="7.2" text-anchor="middle" textLength="3.6" lengthAdjust="spacingAndGlyphs" fill="#262626" stroke="#262626" stroke-width="0.2">4</text>
<line x1="149.9" y1="440.7" x2="149.9" y2="443.9" stroke="#111" stroke-width="1.5"/>
<text x="149.9" y="450.5" font-size="7.2" text-anchor="middle" textLength="3.6" lengthAdjust="spacingAndGlyphs" fill="#262626" stroke="#262626" stroke-width="0.2">5</text>
<line x1="172.1" y1="440.7" x2="172.1" y2="443.9" stroke="#111" stroke-width="1.5"/>
<text x="172.1" y="450.5" font-size="7.2" text-anchor="middle" textLength="3.6" lengthAdjust="spacingAndGlyphs" fill="#262626" stroke="#262626" stroke-width="0.2">6</text>
<line x1="194.3" y1="440.7" x2="194.3" y2="443.9" stroke="#111" stroke-width="1.5"/>
<text x="194.3" y="450.5" font-size="7.2" text-anchor="middle" textLength="3.6" lengthAdjust="spacingAndGlyphs" fill="#262626" stroke="#262626" stroke-width="0.2">7</text>
<text x="20" y="389.4" font-size="8.3" text-anchor="middle" textLength="79" lengthAdjust="spacingAndGlyphs" transform="rotate(-90 20 389.4)" fill="#222" stroke="#222" stroke-width="0.2">CFU/mL blood (x10<tspan font-size="6.6" dy="-3.4">3</tspan><tspan dy="3.4">)</tspan></text>
<text x="116.1" y="463.5" font-size="8.8" text-anchor="middle" textLength="84.9" lengthAdjust="spacingAndGlyphs" fill="#222" stroke="#222" stroke-width="0.2">Time after injection (h)</text>
<line x1="50" y1="436.59" x2="50" y2="437.47" stroke="#111" stroke-width="1.1"/>
<line x1="47.4" y1="436.59" x2="52.6" y2="436.59" stroke="#111" stroke-width="1.1"/>
<line x1="47.4" y1="437.47" x2="52.6" y2="437.47" stroke="#111" stroke-width="1.1"/>
<line x1="61.1" y1="437.62" x2="61.1" y2="438.5" stroke="#111" stroke-width="1.1"/>
<line x1="58.5" y1="437.62" x2="63.7" y2="437.62" stroke="#111" stroke-width="1.1"/>
<line x1="58.5" y1="438.5" x2="63.7" y2="438.5" stroke="#111" stroke-width="1.1"/>
<polyline points="38.9,439.97 50,437.03 61.1,438.06 105.5,440.26 172.1,440.26" fill="none" stroke="#111" stroke-width="2.0" stroke-linejoin="round"/>
<circle cx="38.9" cy="439.97" r="2.3" fill="#111"/>
<circle cx="50" cy="437.03" r="2.3" fill="#111"/>
<circle cx="61.1" cy="438.06" r="2.3" fill="#111"/>
<circle cx="105.5" cy="440.26" r="2.3" fill="#111"/>
<circle cx="172.1" cy="440.26" r="2.3" fill="#111"/>
<line x1="50" y1="437.47" x2="50" y2="438.94" stroke="#e01a1a" stroke-width="1.1"/>
<line x1="47.4" y1="437.47" x2="52.6" y2="437.47" stroke="#e01a1a" stroke-width="1.1"/>
<line x1="47.4" y1="438.94" x2="52.6" y2="438.94" stroke="#e01a1a" stroke-width="1.1"/>
<line x1="61.1" y1="438.06" x2="61.1" y2="439.53" stroke="#e01a1a" stroke-width="1.1"/>
<line x1="58.5" y1="438.06" x2="63.7" y2="438.06" stroke="#e01a1a" stroke-width="1.1"/>
<line x1="58.5" y1="439.53" x2="63.7" y2="439.53" stroke="#e01a1a" stroke-width="1.1"/>
<line x1="105.5" y1="409.89" x2="105.5" y2="420.16" stroke="#e01a1a" stroke-width="1.1"/>
<line x1="102.9" y1="409.89" x2="108.1" y2="409.89" stroke="#e01a1a" stroke-width="1.1"/>
<line x1="102.9" y1="420.16" x2="108.1" y2="420.16" stroke="#e01a1a" stroke-width="1.1"/>
<line x1="172.1" y1="429.4" x2="172.1" y2="435.27" stroke="#e01a1a" stroke-width="1.1"/>
<line x1="169.5" y1="429.4" x2="174.7" y2="429.4" stroke="#e01a1a" stroke-width="1.1"/>
<line x1="169.5" y1="435.27" x2="174.7" y2="435.27" stroke="#e01a1a" stroke-width="1.1"/>
<polyline points="38.9,439.97 50,438.21 61.1,438.79 105.5,415.03 172.1,432.34" fill="none" stroke="#e01a1a" stroke-width="2.0" stroke-linejoin="round"/>
<rect x="36.6" y="437.67" width="4.6" height="4.6" fill="#e01a1a"/>
<rect x="47.7" y="435.91" width="4.6" height="4.6" fill="#e01a1a"/>
<rect x="58.8" y="436.49" width="4.6" height="4.6" fill="#e01a1a"/>
<rect x="103.2" y="412.73" width="4.6" height="4.6" fill="#e01a1a"/>
<rect x="169.8" y="430.04" width="4.6" height="4.6" fill="#e01a1a"/>
<line x1="50" y1="426.03" x2="50" y2="430.43" stroke="#1515d0" stroke-width="1.1"/>
<line x1="47.4" y1="426.03" x2="52.6" y2="426.03" stroke="#1515d0" stroke-width="1.1"/>
<line x1="47.4" y1="430.43" x2="52.6" y2="430.43" stroke="#1515d0" stroke-width="1.1"/>
<line x1="61.1" y1="418.69" x2="61.1" y2="424.56" stroke="#1515d0" stroke-width="1.1"/>
<line x1="58.5" y1="418.69" x2="63.7" y2="418.69" stroke="#1515d0" stroke-width="1.1"/>
<line x1="58.5" y1="424.56" x2="63.7" y2="424.56" stroke="#1515d0" stroke-width="1.1"/>
<line x1="105.5" y1="429.26" x2="105.5" y2="433.66" stroke="#1515d0" stroke-width="1.1"/>
<line x1="102.9" y1="429.26" x2="108.1" y2="429.26" stroke="#1515d0" stroke-width="1.1"/>
<line x1="102.9" y1="433.66" x2="108.1" y2="433.66" stroke="#1515d0" stroke-width="1.1"/>
<line x1="172.1" y1="439.38" x2="172.1" y2="440.26" stroke="#1515d0" stroke-width="1.1"/>
<line x1="169.5" y1="439.38" x2="174.7" y2="439.38" stroke="#1515d0" stroke-width="1.1"/>
<line x1="169.5" y1="440.26" x2="174.7" y2="440.26" stroke="#1515d0" stroke-width="1.1"/>
<polyline points="38.9,439.97 50,428.23 61.1,421.63 105.5,431.46 172.1,439.82" fill="none" stroke="#1515d0" stroke-width="2.0" stroke-linejoin="round"/>
<polygon points="38.9,437.21 41.66,442.17 36.14,442.17" fill="#1515d0"/>
<polygon points="50,425.47 52.76,430.44 47.24,430.44" fill="#1515d0"/>
<polygon points="61.1,418.87 63.86,423.84 58.34,423.84" fill="#1515d0"/>
<polygon points="105.5,428.7 108.26,433.67 102.74,433.67" fill="#1515d0"/>
<polygon points="172.1,437.06 174.86,442.03 169.34,442.03" fill="#1515d0"/>
<line x1="50" y1="417.23" x2="50" y2="429.55" stroke="#1edc1e" stroke-width="1.1"/>
<line x1="47.4" y1="417.23" x2="52.6" y2="417.23" stroke="#1edc1e" stroke-width="1.1"/>
<line x1="47.4" y1="429.55" x2="52.6" y2="429.55" stroke="#1edc1e" stroke-width="1.1"/>
<line x1="61.1" y1="417.37" x2="61.1" y2="427.64" stroke="#1edc1e" stroke-width="1.1"/>
<line x1="58.5" y1="417.37" x2="63.7" y2="417.37" stroke="#1edc1e" stroke-width="1.1"/>
<line x1="58.5" y1="427.64" x2="63.7" y2="427.64" stroke="#1edc1e" stroke-width="1.1"/>
<line x1="105.5" y1="349.16" x2="105.5" y2="387.3" stroke="#1edc1e" stroke-width="1.1"/>
<line x1="102.9" y1="349.16" x2="108.1" y2="349.16" stroke="#1edc1e" stroke-width="1.1"/>
<line x1="102.9" y1="387.3" x2="108.1" y2="387.3" stroke="#1edc1e" stroke-width="1.1"/>
<line x1="172.1" y1="390.53" x2="172.1" y2="417.52" stroke="#1edc1e" stroke-width="1.1"/>
<line x1="169.5" y1="390.53" x2="174.7" y2="390.53" stroke="#1edc1e" stroke-width="1.1"/>
<line x1="169.5" y1="417.52" x2="174.7" y2="417.52" stroke="#1edc1e" stroke-width="1.1"/>
<polyline points="38.9,439.97 50,423.39 61.1,422.51 105.5,368.23 172.1,404.02" fill="none" stroke="#1edc1e" stroke-width="2.0" stroke-linejoin="round"/>
<polygon points="38.9,442.73 41.66,437.76 36.14,437.76" fill="#1edc1e"/>
<polygon points="50,426.15 52.76,421.18 47.24,421.18" fill="#1edc1e"/>
<polygon points="61.1,425.27 63.86,420.3 58.34,420.3" fill="#1edc1e"/>
<polygon points="105.5,370.99 108.26,366.02 102.74,366.02" fill="#1edc1e"/>
<polygon points="172.1,406.78 174.86,401.82 169.34,401.82" fill="#1edc1e"/>
<circle cx="101.85" cy="345.5" r="1.15" fill="#222"/>
<circle cx="105.5" cy="345.5" r="1.15" fill="#222"/>
<circle cx="109.15" cy="345.5" r="1.15" fill="#222"/>
<circle cx="168.45" cy="387" r="1.15" fill="#222"/>
<circle cx="172.1" cy="387" r="1.15" fill="#222"/>
<circle cx="175.75" cy="387" r="1.15" fill="#222"/>
<line x1="180.6" y1="357.9" x2="192.5" y2="357.9" stroke="#111" stroke-width="1.8"/>
<circle cx="186.55" cy="357.9" r="2.1" fill="#111"/>
<text x="197.8" y="360.2" font-size="6.6" text-anchor="start" fill="#262626" stroke="#262626" stroke-width="0.2">Untreated (n=5)</text>
<line x1="180.6" y1="367.15" x2="192.5" y2="367.15" stroke="#e01a1a" stroke-width="1.8"/>
<rect x="184.45" y="365.05" width="4.2" height="4.2" fill="#e01a1a"/>
<text x="197.8" y="369.45" font-size="6.6" text-anchor="start" fill="#262626" stroke="#262626" stroke-width="0.2">Plerixafor (n=13)</text>
<line x1="180.6" y1="376.4" x2="192.5" y2="376.4" stroke="#1515d0" stroke-width="1.8"/>
<polygon points="186.55,373.88 189.07,378.42 184.03,378.42" fill="#1515d0"/>
<text x="197.8" y="378.7" font-size="6.6" text-anchor="start" fill="#262626" stroke="#262626" stroke-width="0.2">BIO5192 (n=10)</text>
<line x1="180.6" y1="385.65" x2="192.5" y2="385.65" stroke="#1edc1e" stroke-width="1.8"/>
<polygon points="186.55,388.17 189.07,383.63 184.03,383.63" fill="#1edc1e"/>
<text x="197.8" y="387.95" font-size="6.6" text-anchor="start" fill="#262626" stroke="#262626" stroke-width="0.2">Plerixafor</text>
<text x="198.4" y="396.9" font-size="6.6" text-anchor="start" fill="#262626" stroke="#262626" stroke-width="0.2">+ BIO5192 (n=7)</text>
<line x1="299.2" y1="346.6" x2="299.2" y2="441.5" stroke="#111" stroke-width="1.9"/>
<line x1="295.9" y1="440.6" x2="299.2" y2="440.6" stroke="#111" stroke-width="1.5"/>
<text x="295.2" y="443.1" font-size="6.8" text-anchor="end" textLength="3.4" lengthAdjust="spacingAndGlyphs" fill="#262626" stroke="#262626" stroke-width="0.2">0</text>
<line x1="295.9" y1="421.94" x2="299.2" y2="421.94" stroke="#111" stroke-width="1.5"/>
<text x="295.2" y="424.44" font-size="6.8" text-anchor="end" textLength="6.81" lengthAdjust="spacingAndGlyphs" fill="#262626" stroke="#262626" stroke-width="0.2">10</text>
<line x1="295.9" y1="403.28" x2="299.2" y2="403.28" stroke="#111" stroke-width="1.5"/>
<text x="295.2" y="405.78" font-size="6.8" text-anchor="end" textLength="6.81" lengthAdjust="spacingAndGlyphs" fill="#262626" stroke="#262626" stroke-width="0.2">20</text>
<line x1="295.9" y1="384.62" x2="299.2" y2="384.62" stroke="#111" stroke-width="1.5"/>
<text x="295.2" y="387.12" font-size="6.8" text-anchor="end" textLength="6.81" lengthAdjust="spacingAndGlyphs" fill="#262626" stroke="#262626" stroke-width="0.2">30</text>
<line x1="295.9" y1="365.96" x2="299.2" y2="365.96" stroke="#111" stroke-width="1.5"/>
<text x="295.2" y="368.46" font-size="6.8" text-anchor="end" textLength="6.81" lengthAdjust="spacingAndGlyphs" fill="#262626" stroke="#262626" stroke-width="0.2">40</text>
<line x1="295.9" y1="347.3" x2="299.2" y2="347.3" stroke="#111" stroke-width="1.5"/>
<text x="295.2" y="349.8" font-size="6.8" text-anchor="end" textLength="6.81" lengthAdjust="spacingAndGlyphs" fill="#262626" stroke="#262626" stroke-width="0.2">50</text>
<line x1="298.3" y1="440.6" x2="318.4" y2="440.6" stroke="#111" stroke-width="1.9"/>
<line x1="308.7" y1="440.6" x2="308.7" y2="443.8" stroke="#111" stroke-width="1.5"/>
<line x1="318.4" y1="437.6" x2="318.4" y2="443.8" stroke="#111" stroke-width="1.5"/>
<text x="308.7" y="450.4" font-size="7.2" text-anchor="middle" textLength="12.97" lengthAdjust="spacingAndGlyphs" fill="#262626" stroke="#262626" stroke-width="0.2">-220</text>
<line x1="325.2" y1="437.6" x2="325.2" y2="443.8" stroke="#111" stroke-width="1.5"/>
<line x1="325.2" y1="440.6" x2="413.3" y2="440.6" stroke="#111" stroke-width="1.9"/>
<line x1="326.1" y1="440.6" x2="326.1" y2="443.8" stroke="#111" stroke-width="1.5"/>
<text x="326.1" y="450.4" font-size="7.2" text-anchor="middle" textLength="3.6" lengthAdjust="spacingAndGlyphs" fill="#262626" stroke="#262626" stroke-width="0.2">0</text>
<line x1="343.46" y1="440.6" x2="343.46" y2="443.8" stroke="#111" stroke-width="1.5"/>
<text x="343.46" y="450.4" font-size="7.2" text-anchor="middle" textLength="3.6" lengthAdjust="spacingAndGlyphs" fill="#262626" stroke="#262626" stroke-width="0.2">2</text>
<line x1="360.82" y1="440.6" x2="360.82" y2="443.8" stroke="#111" stroke-width="1.5"/>
<text x="360.82" y="450.4" font-size="7.2" text-anchor="middle" textLength="3.6" lengthAdjust="spacingAndGlyphs" fill="#262626" stroke="#262626" stroke-width="0.2">4</text>
<line x1="378.18" y1="440.6" x2="378.18" y2="443.8" stroke="#111" stroke-width="1.5"/>
<text x="378.18" y="450.4" font-size="7.2" text-anchor="middle" textLength="3.6" lengthAdjust="spacingAndGlyphs" fill="#262626" stroke="#262626" stroke-width="0.2">6</text>
<line x1="395.54" y1="440.6" x2="395.54" y2="443.8" stroke="#111" stroke-width="1.5"/>
<text x="395.54" y="450.4" font-size="7.2" text-anchor="middle" textLength="3.6" lengthAdjust="spacingAndGlyphs" fill="#262626" stroke="#262626" stroke-width="0.2">8</text>
<line x1="412.9" y1="440.6" x2="412.9" y2="443.8" stroke="#111" stroke-width="1.5"/>
<text x="412.9" y="450.4" font-size="7.2" text-anchor="middle" textLength="7.21" lengthAdjust="spacingAndGlyphs" fill="#262626" stroke="#262626" stroke-width="0.2">10</text>
<line x1="413.3" y1="437.6" x2="413.3" y2="443.8" stroke="#111" stroke-width="1.5"/>
<line x1="421.9" y1="437.6" x2="421.9" y2="443.8" stroke="#111" stroke-width="1.5"/>
<line x1="421.9" y1="440.6" x2="440.7" y2="440.6" stroke="#111" stroke-width="1.9"/>
<line x1="430.6" y1="440.6" x2="430.6" y2="443.8" stroke="#111" stroke-width="1.5"/>
<text x="430.6" y="450.4" font-size="7.2" text-anchor="middle" textLength="7.21" lengthAdjust="spacingAndGlyphs" fill="#262626" stroke="#262626" stroke-width="0.2">24</text>
<text x="278.5" y="394.2" font-size="7.6" text-anchor="middle" textLength="71.7" lengthAdjust="spacingAndGlyphs" transform="rotate(-90 278.5 394.2)" fill="#222" stroke="#222" stroke-width="0.2">CFU/mL blood (x10<tspan font-size="6.6" dy="-3.4">3</tspan><tspan dy="3.4">)</tspan></text>
<text x="370" y="461.8" font-size="8.4" text-anchor="middle" textLength="76.3" lengthAdjust="spacingAndGlyphs" fill="#222" stroke="#222" stroke-width="0.2">Time after injection (h)</text>
<defs><clipPath id="fclip"><rect x="290" y="330" width="29" height="130"/><rect x="325" y="330" width="88.5" height="130"/><rect x="421.9" y="330" width="30" height="130"/></clipPath></defs>
<line x1="334.78" y1="432.39" x2="334.78" y2="436.12" stroke="#111" stroke-width="1.1"/>
<line x1="332.18" y1="432.39" x2="337.38" y2="432.39" stroke="#111" stroke-width="1.1"/>
<line x1="332.18" y1="436.12" x2="337.38" y2="436.12" stroke="#111" stroke-width="1.1"/>
<line x1="378.18" y1="434.26" x2="378.18" y2="436.12" stroke="#111" stroke-width="1.1"/>
<line x1="375.58" y1="434.26" x2="380.78" y2="434.26" stroke="#111" stroke-width="1.1"/>
<line x1="375.58" y1="436.12" x2="380.78" y2="436.12" stroke="#111" stroke-width="1.1"/>
<line x1="395.54" y1="434.63" x2="395.54" y2="436.49" stroke="#111" stroke-width="1.1"/>
<line x1="392.94" y1="434.63" x2="398.14" y2="434.63" stroke="#111" stroke-width="1.1"/>
<line x1="392.94" y1="436.49" x2="398.14" y2="436.49" stroke="#111" stroke-width="1.1"/>
<line x1="430.6" y1="431.64" x2="430.6" y2="435.38" stroke="#111" stroke-width="1.1"/>
<line x1="428" y1="431.64" x2="433.2" y2="431.64" stroke="#111" stroke-width="1.1"/>
<line x1="428" y1="435.38" x2="433.2" y2="435.38" stroke="#111" stroke-width="1.1"/>
<polyline points="326.1,431.46 334.78,434.26 352.14,437.43 378.18,435.19 395.54,435.56 430.6,433.51" fill="none" stroke="#111" stroke-width="2.0" stroke-linejoin="round" clip-path="url(#fclip)"/>
<circle cx="326.1" cy="431.46" r="2.3" fill="#111"/>
<circle cx="334.78" cy="434.26" r="2.3" fill="#111"/>
<circle cx="352.14" cy="437.43" r="2.3" fill="#111"/>
<circle cx="378.18" cy="435.19" r="2.3" fill="#111"/>
<circle cx="395.54" cy="435.56" r="2.3" fill="#111"/>
<circle cx="430.6" cy="433.51" r="2.3" fill="#111"/>
<line x1="334.78" y1="418.95" x2="334.78" y2="424.55" stroke="#e01a1a" stroke-width="1.1"/>
<line x1="332.18" y1="418.95" x2="337.38" y2="418.95" stroke="#e01a1a" stroke-width="1.1"/>
<line x1="332.18" y1="424.55" x2="337.38" y2="424.55" stroke="#e01a1a" stroke-width="1.1"/>
<line x1="352.14" y1="406.83" x2="352.14" y2="412.8" stroke="#e01a1a" stroke-width="1.1"/>
<line x1="349.54" y1="406.83" x2="354.74" y2="406.83" stroke="#e01a1a" stroke-width="1.1"/>
<line x1="349.54" y1="412.8" x2="354.74" y2="412.8" stroke="#e01a1a" stroke-width="1.1"/>
<line x1="378.18" y1="426.61" x2="378.18" y2="432.58" stroke="#e01a1a" stroke-width="1.1"/>
<line x1="375.58" y1="426.61" x2="380.78" y2="426.61" stroke="#e01a1a" stroke-width="1.1"/>
<line x1="375.58" y1="432.58" x2="380.78" y2="432.58" stroke="#e01a1a" stroke-width="1.1"/>
<line x1="395.54" y1="426.05" x2="395.54" y2="431.64" stroke="#e01a1a" stroke-width="1.1"/>
<line x1="392.94" y1="426.05" x2="398.14" y2="426.05" stroke="#e01a1a" stroke-width="1.1"/>
<line x1="392.94" y1="431.64" x2="398.14" y2="431.64" stroke="#e01a1a" stroke-width="1.1"/>
<line x1="430.6" y1="426.98" x2="430.6" y2="430.71" stroke="#e01a1a" stroke-width="1.1"/>
<line x1="428" y1="426.98" x2="433.2" y2="426.98" stroke="#e01a1a" stroke-width="1.1"/>
<line x1="428" y1="430.71" x2="433.2" y2="430.71" stroke="#e01a1a" stroke-width="1.1"/>
<polyline points="326.1,433.14 334.78,421.75 352.14,409.81 378.18,429.59 395.54,428.84 430.6,428.84" fill="none" stroke="#e01a1a" stroke-width="2.0" stroke-linejoin="round" clip-path="url(#fclip)"/>
<rect x="323.8" y="430.84" width="4.6" height="4.6" fill="#e01a1a"/>
<rect x="332.48" y="419.45" width="4.6" height="4.6" fill="#e01a1a"/>
<rect x="349.84" y="407.51" width="4.6" height="4.6" fill="#e01a1a"/>
<rect x="375.88" y="427.29" width="4.6" height="4.6" fill="#e01a1a"/>
<rect x="393.24" y="426.54" width="4.6" height="4.6" fill="#e01a1a"/>
<rect x="428.3" y="426.54" width="4.6" height="4.6" fill="#e01a1a"/>
<line x1="334.78" y1="403.28" x2="334.78" y2="415.6" stroke="#1515d0" stroke-width="1.1"/>
<line x1="332.18" y1="403.28" x2="337.38" y2="403.28" stroke="#1515d0" stroke-width="1.1"/>
<line x1="332.18" y1="415.6" x2="337.38" y2="415.6" stroke="#1515d0" stroke-width="1.1"/>
<line x1="352.14" y1="412.24" x2="352.14" y2="424.93" stroke="#1515d0" stroke-width="1.1"/>
<line x1="349.54" y1="412.24" x2="354.74" y2="412.24" stroke="#1515d0" stroke-width="1.1"/>
<line x1="349.54" y1="424.93" x2="354.74" y2="424.93" stroke="#1515d0" stroke-width="1.1"/>
<line x1="378.18" y1="395.82" x2="378.18" y2="420.45" stroke="#1515d0" stroke-width="1.1"/>
<line x1="375.58" y1="395.82" x2="380.78" y2="395.82" stroke="#1515d0" stroke-width="1.1"/>
<line x1="375.58" y1="420.45" x2="380.78" y2="420.45" stroke="#1515d0" stroke-width="1.1"/>
<line x1="395.54" y1="412.98" x2="395.54" y2="426.61" stroke="#1515d0" stroke-width="1.1"/>
<line x1="392.94" y1="412.98" x2="398.14" y2="412.98" stroke="#1515d0" stroke-width="1.1"/>
<line x1="392.94" y1="426.61" x2="398.14" y2="426.61" stroke="#1515d0" stroke-width="1.1"/>
<line x1="430.6" y1="420.63" x2="430.6" y2="423.62" stroke="#1515d0" stroke-width="1.1"/>
<line x1="428" y1="420.63" x2="433.2" y2="420.63" stroke="#1515d0" stroke-width="1.1"/>
<line x1="428" y1="423.62" x2="433.2" y2="423.62" stroke="#1515d0" stroke-width="1.1"/>
<polyline points="308.7,440.04 326.1,432.2 334.78,409.44 352.14,418.58 378.18,408.13 395.54,422.13 430.6,422.13" fill="none" stroke="#1515d0" stroke-width="2.0" stroke-linejoin="round" clip-path="url(#fclip)"/>
<polygon points="308.7,437.28 311.46,442.25 305.94,442.25" fill="#1515d0"/>
<polygon points="326.1,429.44 328.86,434.41 323.34,434.41" fill="#1515d0"/>
<polygon points="334.78,406.68 337.54,411.65 332.02,411.65" fill="#1515d0"/>
<polygon points="352.14,415.82 354.9,420.79 349.38,420.79" fill="#1515d0"/>
<polygon points="378.18,405.37 380.94,410.34 375.42,410.34" fill="#1515d0"/>
<polygon points="395.54,419.37 398.3,424.33 392.78,424.33" fill="#1515d0"/>
<polygon points="430.6,419.37 433.36,424.33 427.84,424.33" fill="#1515d0"/>
<line x1="334.78" y1="378.65" x2="334.78" y2="398.43" stroke="#1edc1e" stroke-width="1.1"/>
<line x1="332.18" y1="378.65" x2="337.38" y2="378.65" stroke="#1edc1e" stroke-width="1.1"/>
<line x1="332.18" y1="398.43" x2="337.38" y2="398.43" stroke="#1edc1e" stroke-width="1.1"/>
<line x1="352.14" y1="364.09" x2="352.14" y2="387.23" stroke="#1edc1e" stroke-width="1.1"/>
<line x1="349.54" y1="364.09" x2="354.74" y2="364.09" stroke="#1edc1e" stroke-width="1.1"/>
<line x1="349.54" y1="387.23" x2="354.74" y2="387.23" stroke="#1edc1e" stroke-width="1.1"/>
<line x1="378.18" y1="377.34" x2="378.18" y2="389.66" stroke="#1edc1e" stroke-width="1.1"/>
<line x1="375.58" y1="377.34" x2="380.78" y2="377.34" stroke="#1edc1e" stroke-width="1.1"/>
<line x1="375.58" y1="389.66" x2="380.78" y2="389.66" stroke="#1edc1e" stroke-width="1.1"/>
<line x1="395.54" y1="392.46" x2="395.54" y2="410" stroke="#1edc1e" stroke-width="1.1"/>
<line x1="392.94" y1="392.46" x2="398.14" y2="392.46" stroke="#1edc1e" stroke-width="1.1"/>
<line x1="392.94" y1="410" x2="398.14" y2="410" stroke="#1edc1e" stroke-width="1.1"/>
<line x1="430.6" y1="408.88" x2="430.6" y2="431.27" stroke="#1edc1e" stroke-width="1.1"/>
<line x1="428" y1="408.88" x2="433.2" y2="408.88" stroke="#1edc1e" stroke-width="1.1"/>
<line x1="428" y1="431.27" x2="433.2" y2="431.27" stroke="#1edc1e" stroke-width="1.1"/>
<polyline points="308.7,440.04 326.1,434.26 334.78,388.54 352.14,375.66 378.18,383.5 395.54,401.23 430.6,420.82" fill="none" stroke="#1edc1e" stroke-width="2.0" stroke-linejoin="round" clip-path="url(#fclip)"/>
<polygon points="308.7,442.8 311.46,437.83 305.94,437.83" fill="#1edc1e"/>
<polygon points="326.1,437.02 328.86,432.05 323.34,432.05" fill="#1edc1e"/>
<polygon points="334.78,391.3 337.54,386.33 332.02,386.33" fill="#1edc1e"/>
<polygon points="352.14,378.42 354.9,373.46 349.38,373.46" fill="#1edc1e"/>
<polygon points="378.18,386.26 380.94,381.29 375.42,381.29" fill="#1edc1e"/>
<polygon points="395.54,403.99 398.3,399.02 392.78,399.02" fill="#1edc1e"/>
<polygon points="430.6,423.58 433.36,418.61 427.84,418.61" fill="#1edc1e"/>
<circle cx="332.96" cy="375.7" r="1.15" fill="#222"/>
<circle cx="336.61" cy="375.7" r="1.15" fill="#222"/>
<circle cx="348.49" cy="362.3" r="1.15" fill="#222"/>
<circle cx="352.14" cy="362.3" r="1.15" fill="#222"/>
<circle cx="355.79" cy="362.3" r="1.15" fill="#222"/>
<circle cx="376.36" cy="374.4" r="1.15" fill="#222"/>
<circle cx="380" cy="374.4" r="1.15" fill="#222"/>
<circle cx="395.54" cy="391.7" r="1.15" fill="#222"/>
<line x1="432.6" y1="368.9" x2="444.2" y2="368.9" stroke="#111" stroke-width="1.8"/>
<circle cx="438.4" cy="368.9" r="2.1" fill="#111"/>
<text x="448.5" y="371.2" font-size="6.1" text-anchor="start" fill="#262626" stroke="#262626" stroke-width="0.2">G-CSF (n=4)</text>
<line x1="432.6" y1="376.7" x2="444.2" y2="376.7" stroke="#e01a1a" stroke-width="1.8"/>
<rect x="436.3" y="374.6" width="4.2" height="4.2" fill="#e01a1a"/>
<text x="448.5" y="379" font-size="6.1" text-anchor="start" fill="#262626" stroke="#262626" stroke-width="0.2">G-CSF + plerixafor (n=4)</text>
<line x1="432.6" y1="384.5" x2="444.2" y2="384.5" stroke="#1515d0" stroke-width="1.8"/>
<polygon points="438.4,381.98 440.92,386.52 435.88,386.52" fill="#1515d0"/>
<text x="448.5" y="386.8" font-size="6.1" text-anchor="start" fill="#262626" stroke="#262626" stroke-width="0.2">G-CSF + BIO5192 (n=4)</text>
<line x1="432.6" y1="392.3" x2="444.2" y2="392.3" stroke="#1edc1e" stroke-width="1.8"/>
<polygon points="438.4,394.82 440.92,390.28 435.88,390.28" fill="#1edc1e"/>
<text x="448.5" y="394.6" font-size="6.1" text-anchor="start" fill="#262626" stroke="#262626" stroke-width="0.2">G-CSF + plerixafor</text>
<text x="455.1" y="402.6" font-size="6.1" text-anchor="start" fill="#262626" stroke="#262626" stroke-width="0.2">+ BIO5192 (n=4)</text>
<line x1="39.1" y1="506.2" x2="39.1" y2="606.9" stroke="#111" stroke-width="1.9"/>
<line x1="35.8" y1="606" x2="39.1" y2="606" stroke="#111" stroke-width="1.5"/>
<text x="35.1" y="608.5" font-size="7.2" text-anchor="end" textLength="3.44" lengthAdjust="spacingAndGlyphs" fill="#262626" stroke="#262626" stroke-width="0.2">0</text>
<line x1="35.8" y1="586.18" x2="39.1" y2="586.18" stroke="#111" stroke-width="1.5"/>
<text x="35.1" y="588.68" font-size="7.2" text-anchor="end" textLength="6.89" lengthAdjust="spacingAndGlyphs" fill="#262626" stroke="#262626" stroke-width="0.2">20</text>
<line x1="35.8" y1="566.36" x2="39.1" y2="566.36" stroke="#111" stroke-width="1.5"/>
<text x="35.1" y="568.86" font-size="7.2" text-anchor="end" textLength="6.89" lengthAdjust="spacingAndGlyphs" fill="#262626" stroke="#262626" stroke-width="0.2">40</text>
<line x1="35.8" y1="546.54" x2="39.1" y2="546.54" stroke="#111" stroke-width="1.5"/>
<text x="35.1" y="549.04" font-size="7.2" text-anchor="end" textLength="6.89" lengthAdjust="spacingAndGlyphs" fill="#262626" stroke="#262626" stroke-width="0.2">60</text>
<line x1="35.8" y1="526.72" x2="39.1" y2="526.72" stroke="#111" stroke-width="1.5"/>
<text x="35.1" y="529.22" font-size="7.2" text-anchor="end" textLength="6.89" lengthAdjust="spacingAndGlyphs" fill="#262626" stroke="#262626" stroke-width="0.2">80</text>
<line x1="35.8" y1="506.9" x2="39.1" y2="506.9" stroke="#111" stroke-width="1.5"/>
<text x="35.1" y="509.4" font-size="7.2" text-anchor="end" textLength="10.33" lengthAdjust="spacingAndGlyphs" fill="#262626" stroke="#262626" stroke-width="0.2">100</text>
<line x1="38.2" y1="606" x2="187.3" y2="606" stroke="#111" stroke-width="1.9"/>
<line x1="45.8" y1="606" x2="45.8" y2="609.2" stroke="#111" stroke-width="1.5"/>
<text x="45.8" y="616.4" font-size="7.2" text-anchor="middle" textLength="3.6" lengthAdjust="spacingAndGlyphs" fill="#262626" stroke="#262626" stroke-width="0.2">1</text>
<line x1="79.35" y1="606" x2="79.35" y2="609.2" stroke="#111" stroke-width="1.5"/>
<text x="79.35" y="616.4" font-size="7.2" text-anchor="middle" textLength="3.6" lengthAdjust="spacingAndGlyphs" fill="#262626" stroke="#262626" stroke-width="0.2">2</text>
<line x1="112.9" y1="606" x2="112.9" y2="609.2" stroke="#111" stroke-width="1.5"/>
<text x="112.9" y="616.4" font-size="7.2" text-anchor="middle" textLength="3.6" lengthAdjust="spacingAndGlyphs" fill="#262626" stroke="#262626" stroke-width="0.2">3</text>
<line x1="146.45" y1="606" x2="146.45" y2="609.2" stroke="#111" stroke-width="1.5"/>
<text x="146.45" y="616.4" font-size="7.2" text-anchor="middle" textLength="3.6" lengthAdjust="spacingAndGlyphs" fill="#262626" stroke="#262626" stroke-width="0.2">4</text>
<line x1="180" y1="606" x2="180" y2="609.2" stroke="#111" stroke-width="1.5"/>
<text x="180" y="616.4" font-size="7.2" text-anchor="middle" textLength="3.6" lengthAdjust="spacingAndGlyphs" fill="#262626" stroke="#262626" stroke-width="0.2">5</text>
<text x="18.1" y="557.3" font-size="8.3" text-anchor="middle" textLength="81.3" lengthAdjust="spacingAndGlyphs" transform="rotate(-90 18.1 557.3)" fill="#222" stroke="#222" stroke-width="0.2">Donor engraftment (%)</text>
<text x="112.5" y="626.6" font-size="8.1" text-anchor="middle" textLength="109.3" lengthAdjust="spacingAndGlyphs" fill="#222" stroke="#222" stroke-width="0.2">Time after transplant (months)</text>
<line x1="45.8" y1="594.11" x2="45.8" y2="598.07" stroke="#111" stroke-width="1.1"/>
<line x1="43.2" y1="594.11" x2="48.4" y2="594.11" stroke="#111" stroke-width="1.1"/>
<line x1="43.2" y1="598.07" x2="48.4" y2="598.07" stroke="#111" stroke-width="1.1"/>
<line x1="79.35" y1="593.41" x2="79.35" y2="602.33" stroke="#111" stroke-width="1.1"/>
<line x1="76.75" y1="593.41" x2="81.95" y2="593.41" stroke="#111" stroke-width="1.1"/>
<line x1="76.75" y1="602.33" x2="81.95" y2="602.33" stroke="#111" stroke-width="1.1"/>
<line x1="112.9" y1="593.71" x2="112.9" y2="603.62" stroke="#111" stroke-width="1.1"/>
<line x1="110.3" y1="593.71" x2="115.5" y2="593.71" stroke="#111" stroke-width="1.1"/>
<line x1="110.3" y1="603.62" x2="115.5" y2="603.62" stroke="#111" stroke-width="1.1"/>
<line x1="146.45" y1="595.2" x2="146.45" y2="603.13" stroke="#111" stroke-width="1.1"/>
<line x1="143.85" y1="595.2" x2="149.05" y2="595.2" stroke="#111" stroke-width="1.1"/>
<line x1="143.85" y1="603.13" x2="149.05" y2="603.13" stroke="#111" stroke-width="1.1"/>
<line x1="180" y1="592.23" x2="180" y2="603.13" stroke="#111" stroke-width="1.1"/>
<line x1="177.4" y1="592.23" x2="182.6" y2="592.23" stroke="#111" stroke-width="1.1"/>
<line x1="177.4" y1="603.13" x2="182.6" y2="603.13" stroke="#111" stroke-width="1.1"/>
<polyline points="45.8,596.09 79.35,597.87 112.9,598.67 146.45,599.16 180,597.68" fill="none" stroke="#111" stroke-width="2.0" stroke-linejoin="round"/>
<circle cx="45.8" cy="596.09" r="2.3" fill="#111"/>
<circle cx="79.35" cy="597.87" r="2.3" fill="#111"/>
<circle cx="112.9" cy="598.67" r="2.3" fill="#111"/>
<circle cx="146.45" cy="599.16" r="2.3" fill="#111"/>
<circle cx="180" cy="597.68" r="2.3" fill="#111"/>
<line x1="45.8" y1="526.72" x2="45.8" y2="530.68" stroke="#8a5a32" stroke-width="1.1"/>
<line x1="43.2" y1="526.72" x2="48.4" y2="526.72" stroke="#8a5a32" stroke-width="1.1"/>
<line x1="43.2" y1="530.68" x2="48.4" y2="530.68" stroke="#8a5a32" stroke-width="1.1"/>
<line x1="79.35" y1="523.35" x2="79.35" y2="525.33" stroke="#8a5a32" stroke-width="1.1"/>
<line x1="76.75" y1="523.35" x2="81.95" y2="523.35" stroke="#8a5a32" stroke-width="1.1"/>
<line x1="76.75" y1="525.33" x2="81.95" y2="525.33" stroke="#8a5a32" stroke-width="1.1"/>
<line x1="112.9" y1="520.28" x2="112.9" y2="522.26" stroke="#8a5a32" stroke-width="1.1"/>
<line x1="110.3" y1="520.28" x2="115.5" y2="520.28" stroke="#8a5a32" stroke-width="1.1"/>
<line x1="110.3" y1="522.26" x2="115.5" y2="522.26" stroke="#8a5a32" stroke-width="1.1"/>
<line x1="146.45" y1="516.81" x2="146.45" y2="522.76" stroke="#8a5a32" stroke-width="1.1"/>
<line x1="143.85" y1="516.81" x2="149.05" y2="516.81" stroke="#8a5a32" stroke-width="1.1"/>
<line x1="143.85" y1="522.76" x2="149.05" y2="522.76" stroke="#8a5a32" stroke-width="1.1"/>
<line x1="180" y1="516.02" x2="180" y2="520.97" stroke="#8a5a32" stroke-width="1.1"/>
<line x1="177.4" y1="516.02" x2="182.6" y2="516.02" stroke="#8a5a32" stroke-width="1.1"/>
<line x1="177.4" y1="520.97" x2="182.6" y2="520.97" stroke="#8a5a32" stroke-width="1.1"/>
<polyline points="45.8,528.7 79.35,524.34 112.9,521.27 146.45,519.78 180,518.49" fill="none" stroke="#8a5a32" stroke-width="1.5" stroke-linejoin="round"/>
<polygon points="45.8,525.94 48.56,528.7 45.8,531.46 43.04,528.7" fill="#8a5a32"/>
<polygon points="79.35,521.58 82.11,524.34 79.35,527.1 76.59,524.34" fill="#8a5a32"/>
<polygon points="112.9,518.51 115.66,521.27 112.9,524.03 110.14,521.27" fill="#8a5a32"/>
<polygon points="146.45,517.02 149.21,519.78 146.45,522.54 143.69,519.78" fill="#8a5a32"/>
<polygon points="180,515.73 182.76,518.49 180,521.25 177.24,518.49" fill="#8a5a32"/>
<line x1="45.8" y1="559.13" x2="45.8" y2="579.94" stroke="#e01a1a" stroke-width="1.1"/>
<line x1="43.2" y1="559.13" x2="48.4" y2="559.13" stroke="#e01a1a" stroke-width="1.1"/>
<line x1="43.2" y1="579.94" x2="48.4" y2="579.94" stroke="#e01a1a" stroke-width="1.1"/>
<line x1="79.35" y1="551.2" x2="79.35" y2="579.94" stroke="#e01a1a" stroke-width="1.1"/>
<line x1="76.75" y1="551.2" x2="81.95" y2="551.2" stroke="#e01a1a" stroke-width="1.1"/>
<line x1="76.75" y1="579.94" x2="81.95" y2="579.94" stroke="#e01a1a" stroke-width="1.1"/>
<line x1="112.9" y1="542.77" x2="112.9" y2="576.47" stroke="#e01a1a" stroke-width="1.1"/>
<line x1="110.3" y1="542.77" x2="115.5" y2="542.77" stroke="#e01a1a" stroke-width="1.1"/>
<line x1="110.3" y1="576.47" x2="115.5" y2="576.47" stroke="#e01a1a" stroke-width="1.1"/>
<line x1="146.45" y1="544.46" x2="146.45" y2="577.16" stroke="#e01a1a" stroke-width="1.1"/>
<line x1="143.85" y1="544.46" x2="149.05" y2="544.46" stroke="#e01a1a" stroke-width="1.1"/>
<line x1="143.85" y1="577.16" x2="149.05" y2="577.16" stroke="#e01a1a" stroke-width="1.1"/>
<line x1="180" y1="543.27" x2="180" y2="576.96" stroke="#e01a1a" stroke-width="1.1"/>
<line x1="177.4" y1="543.27" x2="182.6" y2="543.27" stroke="#e01a1a" stroke-width="1.1"/>
<line x1="177.4" y1="576.96" x2="182.6" y2="576.96" stroke="#e01a1a" stroke-width="1.1"/>
<polyline points="45.8,569.53 79.35,565.57 112.9,559.62 146.45,560.81 180,560.12" fill="none" stroke="#e01a1a" stroke-width="2.0" stroke-linejoin="round"/>
<circle cx="45.8" cy="569.53" r="2.3" fill="#e01a1a"/>
<circle cx="79.35" cy="565.57" r="2.3" fill="#e01a1a"/>
<circle cx="112.9" cy="559.62" r="2.3" fill="#e01a1a"/>
<circle cx="146.45" cy="560.81" r="2.3" fill="#e01a1a"/>
<circle cx="180" cy="560.12" r="2.3" fill="#e01a1a"/>
<line x1="45.8" y1="563.88" x2="45.8" y2="572.8" stroke="#1515d0" stroke-width="1.1"/>
<line x1="43.2" y1="563.88" x2="48.4" y2="563.88" stroke="#1515d0" stroke-width="1.1"/>
<line x1="43.2" y1="572.8" x2="48.4" y2="572.8" stroke="#1515d0" stroke-width="1.1"/>
<line x1="79.35" y1="545.15" x2="79.35" y2="559.03" stroke="#1515d0" stroke-width="1.1"/>
<line x1="76.75" y1="545.15" x2="81.95" y2="545.15" stroke="#1515d0" stroke-width="1.1"/>
<line x1="76.75" y1="559.03" x2="81.95" y2="559.03" stroke="#1515d0" stroke-width="1.1"/>
<line x1="112.9" y1="541.49" x2="112.9" y2="554.37" stroke="#1515d0" stroke-width="1.1"/>
<line x1="110.3" y1="541.49" x2="115.5" y2="541.49" stroke="#1515d0" stroke-width="1.1"/>
<line x1="110.3" y1="554.37" x2="115.5" y2="554.37" stroke="#1515d0" stroke-width="1.1"/>
<line x1="146.45" y1="536.33" x2="146.45" y2="551.2" stroke="#1515d0" stroke-width="1.1"/>
<line x1="143.85" y1="536.33" x2="149.05" y2="536.33" stroke="#1515d0" stroke-width="1.1"/>
<line x1="143.85" y1="551.2" x2="149.05" y2="551.2" stroke="#1515d0" stroke-width="1.1"/>
<line x1="180" y1="542.58" x2="180" y2="558.43" stroke="#1515d0" stroke-width="1.1"/>
<line x1="177.4" y1="542.58" x2="182.6" y2="542.58" stroke="#1515d0" stroke-width="1.1"/>
<line x1="177.4" y1="558.43" x2="182.6" y2="558.43" stroke="#1515d0" stroke-width="1.1"/>
<polyline points="45.8,568.34 79.35,552.09 112.9,547.93 146.45,543.77 180,550.5" fill="none" stroke="#1515d0" stroke-width="2.0" stroke-linejoin="round"/>
<polygon points="45.8,565.58 48.56,570.55 43.04,570.55" fill="#1515d0"/>
<polygon points="79.35,549.33 82.11,554.3 76.59,554.3" fill="#1515d0"/>
<polygon points="112.9,545.17 115.66,550.14 110.14,550.14" fill="#1515d0"/>
<polygon points="146.45,541.01 149.21,545.97 143.69,545.97" fill="#1515d0"/>
<polygon points="180,547.74 182.76,552.71 177.24,552.71" fill="#1515d0"/>
<line x1="45.8" y1="538.22" x2="45.8" y2="546.14" stroke="#1edc1e" stroke-width="1.1"/>
<line x1="43.2" y1="538.22" x2="48.4" y2="538.22" stroke="#1edc1e" stroke-width="1.1"/>
<line x1="43.2" y1="546.14" x2="48.4" y2="546.14" stroke="#1edc1e" stroke-width="1.1"/>
<line x1="79.35" y1="534.65" x2="79.35" y2="543.57" stroke="#1edc1e" stroke-width="1.1"/>
<line x1="76.75" y1="534.65" x2="81.95" y2="534.65" stroke="#1edc1e" stroke-width="1.1"/>
<line x1="76.75" y1="543.57" x2="81.95" y2="543.57" stroke="#1edc1e" stroke-width="1.1"/>
<line x1="112.9" y1="527.22" x2="112.9" y2="538.12" stroke="#1edc1e" stroke-width="1.1"/>
<line x1="110.3" y1="527.22" x2="115.5" y2="527.22" stroke="#1edc1e" stroke-width="1.1"/>
<line x1="110.3" y1="538.12" x2="115.5" y2="538.12" stroke="#1edc1e" stroke-width="1.1"/>
<line x1="146.45" y1="527.12" x2="146.45" y2="539.01" stroke="#1edc1e" stroke-width="1.1"/>
<line x1="143.85" y1="527.12" x2="149.05" y2="527.12" stroke="#1edc1e" stroke-width="1.1"/>
<line x1="143.85" y1="539.01" x2="149.05" y2="539.01" stroke="#1edc1e" stroke-width="1.1"/>
<line x1="180" y1="527.02" x2="180" y2="537.92" stroke="#1edc1e" stroke-width="1.1"/>
<line x1="177.4" y1="527.02" x2="182.6" y2="527.02" stroke="#1edc1e" stroke-width="1.1"/>
<line x1="177.4" y1="537.92" x2="182.6" y2="537.92" stroke="#1edc1e" stroke-width="1.1"/>
<polyline points="45.8,542.18 79.35,539.11 112.9,532.67 146.45,533.06 180,532.47" fill="none" stroke="#1edc1e" stroke-width="2.0" stroke-linejoin="round"/>
<polygon points="45.8,544.94 48.56,539.97 43.04,539.97" fill="#1edc1e"/>
<polygon points="79.35,541.87 82.11,536.9 76.59,536.9" fill="#1edc1e"/>
<polygon points="112.9,535.43 115.66,530.46 110.14,530.46" fill="#1edc1e"/>
<polygon points="146.45,535.82 149.21,530.85 143.69,530.85" fill="#1edc1e"/>
<polygon points="180,535.23 182.76,530.26 177.24,530.26" fill="#1edc1e"/>
<line x1="186.2" y1="530.1" x2="197.5" y2="530.1" stroke="#111" stroke-width="1.8"/>
<circle cx="191.85" cy="530.1" r="2.1" fill="#111"/>
<text x="203" y="532.4" font-size="6.2" text-anchor="start" fill="#262626" stroke="#262626" stroke-width="0.2">Untreated</text>
<line x1="186.2" y1="538.8" x2="197.5" y2="538.8" stroke="#8a5a32" stroke-width="1.8"/>
<polygon points="191.85,536.28 194.37,538.8 191.85,541.32 189.33,538.8" fill="#8a5a32"/>
<text x="203" y="541.1" font-size="6.2" text-anchor="start" fill="#262626" stroke="#262626" stroke-width="0.2">G-CSF</text>
<line x1="186.2" y1="548" x2="197.5" y2="548" stroke="#e01a1a" stroke-width="1.8"/>
<circle cx="191.85" cy="548" r="2.1" fill="#e01a1a"/>
<text x="203" y="550.3" font-size="6.2" text-anchor="start" fill="#262626" stroke="#262626" stroke-width="0.2">Plerixafor</text>
<line x1="186.2" y1="556.4" x2="197.5" y2="556.4" stroke="#1515d0" stroke-width="1.8"/>
<polygon points="191.85,553.88 194.37,558.42 189.33,558.42" fill="#1515d0"/>
<text x="203" y="558.7" font-size="6.2" text-anchor="start" fill="#262626" stroke="#262626" stroke-width="0.2">BIO5192</text>
<line x1="186.2" y1="565" x2="197.5" y2="565" stroke="#1edc1e" stroke-width="1.8"/>
<polygon points="191.85,567.52 194.37,562.98 189.33,562.98" fill="#1edc1e"/>
<text x="203" y="567.3" font-size="6.2" text-anchor="start" fill="#262626" stroke="#262626" stroke-width="0.2">Plerixafor</text>
<text x="207.6" y="575.5" font-size="6.2" text-anchor="start" fill="#262626" stroke="#262626" stroke-width="0.2">+ BIO5192</text>
<line x1="299.8" y1="500.8" x2="299.8" y2="606.1" stroke="#111" stroke-width="1.9"/>
<line x1="296.5" y1="605.2" x2="299.8" y2="605.2" stroke="#111" stroke-width="1.5"/>
<text x="295.8" y="607.7" font-size="7.2" text-anchor="end" textLength="3.56" lengthAdjust="spacingAndGlyphs" fill="#262626" stroke="#262626" stroke-width="0.2">0</text>
<line x1="296.5" y1="584.46" x2="299.8" y2="584.46" stroke="#111" stroke-width="1.5"/>
<text x="295.8" y="586.96" font-size="7.2" text-anchor="end" textLength="7.13" lengthAdjust="spacingAndGlyphs" fill="#262626" stroke="#262626" stroke-width="0.2">20</text>
<line x1="296.5" y1="563.72" x2="299.8" y2="563.72" stroke="#111" stroke-width="1.5"/>
<text x="295.8" y="566.22" font-size="7.2" text-anchor="end" textLength="7.13" lengthAdjust="spacingAndGlyphs" fill="#262626" stroke="#262626" stroke-width="0.2">40</text>
<line x1="296.5" y1="542.98" x2="299.8" y2="542.98" stroke="#111" stroke-width="1.5"/>
<text x="295.8" y="545.48" font-size="7.2" text-anchor="end" textLength="7.13" lengthAdjust="spacingAndGlyphs" fill="#262626" stroke="#262626" stroke-width="0.2">60</text>
<line x1="296.5" y1="522.24" x2="299.8" y2="522.24" stroke="#111" stroke-width="1.5"/>
<text x="295.8" y="524.74" font-size="7.2" text-anchor="end" textLength="7.13" lengthAdjust="spacingAndGlyphs" fill="#262626" stroke="#262626" stroke-width="0.2">80</text>
<line x1="296.5" y1="501.5" x2="299.8" y2="501.5" stroke="#111" stroke-width="1.5"/>
<text x="295.8" y="504" font-size="7.2" text-anchor="end" textLength="10.69" lengthAdjust="spacingAndGlyphs" fill="#262626" stroke="#262626" stroke-width="0.2">100</text>
<line x1="298.9" y1="605.2" x2="415.5" y2="605.2" stroke="#111" stroke-width="1.9"/>
<line x1="309.6" y1="605.2" x2="309.6" y2="608.4" stroke="#111" stroke-width="1.5"/>
<text x="309.6" y="616" font-size="7.2" text-anchor="middle" textLength="3.6" lengthAdjust="spacingAndGlyphs" fill="#262626" stroke="#262626" stroke-width="0.2">1</text>
<line x1="357.5" y1="605.2" x2="357.5" y2="608.4" stroke="#111" stroke-width="1.5"/>
<text x="357.5" y="616" font-size="7.2" text-anchor="middle" textLength="3.6" lengthAdjust="spacingAndGlyphs" fill="#262626" stroke="#262626" stroke-width="0.2">2</text>
<line x1="405.4" y1="605.2" x2="405.4" y2="608.4" stroke="#111" stroke-width="1.5"/>
<text x="405.4" y="616" font-size="7.2" text-anchor="middle" textLength="3.6" lengthAdjust="spacingAndGlyphs" fill="#262626" stroke="#262626" stroke-width="0.2">3</text>
<text x="279" y="553.5" font-size="8.3" text-anchor="middle" textLength="84" lengthAdjust="spacingAndGlyphs" transform="rotate(-90 279 553.5)" fill="#222" stroke="#222" stroke-width="0.2">Donor engraftment (%)</text>
<text x="357.2" y="626.6" font-size="8.1" text-anchor="middle" textLength="112.1" lengthAdjust="spacingAndGlyphs" fill="#222" stroke="#222" stroke-width="0.2">Time after transplant (months)</text>
<polyline points="309.6,605.2 357.5,605.2 405.4,605.2" fill="none" stroke="#111" stroke-width="2.0" stroke-linejoin="round"/>
<circle cx="309.6" cy="605.2" r="2.3" fill="#111"/>
<circle cx="357.5" cy="605.2" r="2.3" fill="#111"/>
<circle cx="405.4" cy="605.2" r="2.3" fill="#111"/>
<line x1="309.6" y1="548.68" x2="309.6" y2="553.87" stroke="#e01a1a" stroke-width="1.1"/>
<line x1="307" y1="548.68" x2="312.2" y2="548.68" stroke="#e01a1a" stroke-width="1.1"/>
<line x1="307" y1="553.87" x2="312.2" y2="553.87" stroke="#e01a1a" stroke-width="1.1"/>
<line x1="357.5" y1="551.28" x2="357.5" y2="563.72" stroke="#e01a1a" stroke-width="1.1"/>
<line x1="354.9" y1="551.28" x2="360.1" y2="551.28" stroke="#e01a1a" stroke-width="1.1"/>
<line x1="354.9" y1="563.72" x2="360.1" y2="563.72" stroke="#e01a1a" stroke-width="1.1"/>
<line x1="405.4" y1="558.02" x2="405.4" y2="575.65" stroke="#e01a1a" stroke-width="1.1"/>
<line x1="402.8" y1="558.02" x2="408" y2="558.02" stroke="#e01a1a" stroke-width="1.1"/>
<line x1="402.8" y1="575.65" x2="408" y2="575.65" stroke="#e01a1a" stroke-width="1.1"/>
<polyline points="309.6,551.28 357.5,557.5 405.4,566.83" fill="none" stroke="#e01a1a" stroke-width="2.0" stroke-linejoin="round"/>
<rect x="307.3" y="548.98" width="4.6" height="4.6" fill="#e01a1a"/>
<rect x="355.2" y="555.2" width="4.6" height="4.6" fill="#e01a1a"/>
<rect x="403.1" y="564.53" width="4.6" height="4.6" fill="#e01a1a"/>
<line x1="309.6" y1="536.76" x2="309.6" y2="545.05" stroke="#1515d0" stroke-width="1.1"/>
<line x1="307" y1="536.76" x2="312.2" y2="536.76" stroke="#1515d0" stroke-width="1.1"/>
<line x1="307" y1="545.05" x2="312.2" y2="545.05" stroke="#1515d0" stroke-width="1.1"/>
<line x1="357.5" y1="535" x2="357.5" y2="542.25" stroke="#1515d0" stroke-width="1.1"/>
<line x1="354.9" y1="535" x2="360.1" y2="535" stroke="#1515d0" stroke-width="1.1"/>
<line x1="354.9" y1="542.25" x2="360.1" y2="542.25" stroke="#1515d0" stroke-width="1.1"/>
<line x1="405.4" y1="527.43" x2="405.4" y2="533.65" stroke="#1515d0" stroke-width="1.1"/>
<line x1="402.8" y1="527.43" x2="408" y2="527.43" stroke="#1515d0" stroke-width="1.1"/>
<line x1="402.8" y1="533.65" x2="408" y2="533.65" stroke="#1515d0" stroke-width="1.1"/>
<polyline points="309.6,540.91 357.5,538.62 405.4,530.54" fill="none" stroke="#1515d0" stroke-width="2.0" stroke-linejoin="round"/>
<polygon points="309.6,538.15 312.36,543.11 306.84,543.11" fill="#1515d0"/>
<polygon points="357.5,535.86 360.26,540.83 354.74,540.83" fill="#1515d0"/>
<polygon points="405.4,527.78 408.16,532.74 402.64,532.74" fill="#1515d0"/>
<line x1="309.6" y1="538.83" x2="309.6" y2="545.05" stroke="#1edc1e" stroke-width="1.1"/>
<line x1="307" y1="538.83" x2="312.2" y2="538.83" stroke="#1edc1e" stroke-width="1.1"/>
<line x1="307" y1="545.05" x2="312.2" y2="545.05" stroke="#1edc1e" stroke-width="1.1"/>
<line x1="357.5" y1="528.88" x2="357.5" y2="539.25" stroke="#1edc1e" stroke-width="1.1"/>
<line x1="354.9" y1="528.88" x2="360.1" y2="528.88" stroke="#1edc1e" stroke-width="1.1"/>
<line x1="354.9" y1="539.25" x2="360.1" y2="539.25" stroke="#1edc1e" stroke-width="1.1"/>
<line x1="405.4" y1="521.72" x2="405.4" y2="534.17" stroke="#1edc1e" stroke-width="1.1"/>
<line x1="402.8" y1="521.72" x2="408" y2="521.72" stroke="#1edc1e" stroke-width="1.1"/>
<line x1="402.8" y1="534.17" x2="408" y2="534.17" stroke="#1edc1e" stroke-width="1.1"/>
<polyline points="309.6,541.94 357.5,534.06 405.4,527.94" fill="none" stroke="#1edc1e" stroke-width="2.0" stroke-linejoin="round"/>
<polygon points="309.6,544.7 312.36,539.74 306.84,539.74" fill="#1edc1e"/>
<polygon points="357.5,536.82 360.26,531.85 354.74,531.85" fill="#1edc1e"/>
<polygon points="405.4,530.7 408.16,525.74 402.64,525.74" fill="#1edc1e"/>
<line x1="309.6" y1="534.79" x2="309.6" y2="546.19" stroke="#8a5a32" stroke-width="1.1"/>
<line x1="307" y1="534.79" x2="312.2" y2="534.79" stroke="#8a5a32" stroke-width="1.1"/>
<line x1="307" y1="546.19" x2="312.2" y2="546.19" stroke="#8a5a32" stroke-width="1.1"/>
<line x1="357.5" y1="525.14" x2="357.5" y2="537.59" stroke="#8a5a32" stroke-width="1.1"/>
<line x1="354.9" y1="525.14" x2="360.1" y2="525.14" stroke="#8a5a32" stroke-width="1.1"/>
<line x1="354.9" y1="537.59" x2="360.1" y2="537.59" stroke="#8a5a32" stroke-width="1.1"/>
<line x1="405.4" y1="525.14" x2="405.4" y2="546.92" stroke="#8a5a32" stroke-width="1.1"/>
<line x1="402.8" y1="525.14" x2="408" y2="525.14" stroke="#8a5a32" stroke-width="1.1"/>
<line x1="402.8" y1="546.92" x2="408" y2="546.92" stroke="#8a5a32" stroke-width="1.1"/>
<polyline points="309.6,540.49 357.5,531.37 405.4,536.03" fill="none" stroke="#8a5a32" stroke-width="1.6" stroke-linejoin="round"/>
<polygon points="309.6,537.73 312.36,540.49 309.6,543.25 306.84,540.49" fill="#8a5a32"/>
<polygon points="357.5,528.61 360.26,531.37 357.5,534.13 354.74,531.37" fill="#8a5a32"/>
<polygon points="405.4,533.27 408.16,536.03 405.4,538.79 402.64,536.03" fill="#8a5a32"/>
<line x1="420.4" y1="528.5" x2="431.7" y2="528.5" stroke="#111" stroke-width="1.8"/>
<circle cx="426.05" cy="528.5" r="2.1" fill="#111"/>
<text x="437.9" y="530.8" font-size="6.6" text-anchor="start" fill="#262626" stroke="#262626" stroke-width="0.2">Untreated</text>
<line x1="420.4" y1="537.3" x2="431.7" y2="537.3" stroke="#8a5a32" stroke-width="1.8"/>
<polygon points="426.05,534.78 428.57,537.3 426.05,539.82 423.53,537.3" fill="#8a5a32"/>
<text x="437.9" y="539.6" font-size="6.6" text-anchor="start" fill="#262626" stroke="#262626" stroke-width="0.2">G-CSF</text>
<line x1="420.4" y1="546" x2="431.7" y2="546" stroke="#e01a1a" stroke-width="1.8"/>
<rect x="423.95" y="543.9" width="4.2" height="4.2" fill="#e01a1a"/>
<text x="437.9" y="548.3" font-size="6.6" text-anchor="start" fill="#262626" stroke="#262626" stroke-width="0.2">Plerixafor</text>
<line x1="420.4" y1="554.7" x2="431.7" y2="554.7" stroke="#1515d0" stroke-width="1.8"/>
<polygon points="426.05,552.18 428.57,556.72 423.53,556.72" fill="#1515d0"/>
<text x="437.9" y="557" font-size="6.6" text-anchor="start" fill="#262626" stroke="#262626" stroke-width="0.2">BIO5192</text>
<line x1="420.4" y1="564" x2="431.7" y2="564" stroke="#1edc1e" stroke-width="1.8"/>
<polygon points="426.05,566.52 428.57,561.98 423.53,561.98" fill="#1edc1e"/>
<text x="437.9" y="566.3" font-size="6.6" text-anchor="start" fill="#262626" stroke="#262626" stroke-width="0.2">Plerixafor</text>
<text x="444" y="575" font-size="6.6" text-anchor="start" fill="#262626" stroke="#262626" stroke-width="0.2">+ BIO5192</text>
</svg></body></html>
